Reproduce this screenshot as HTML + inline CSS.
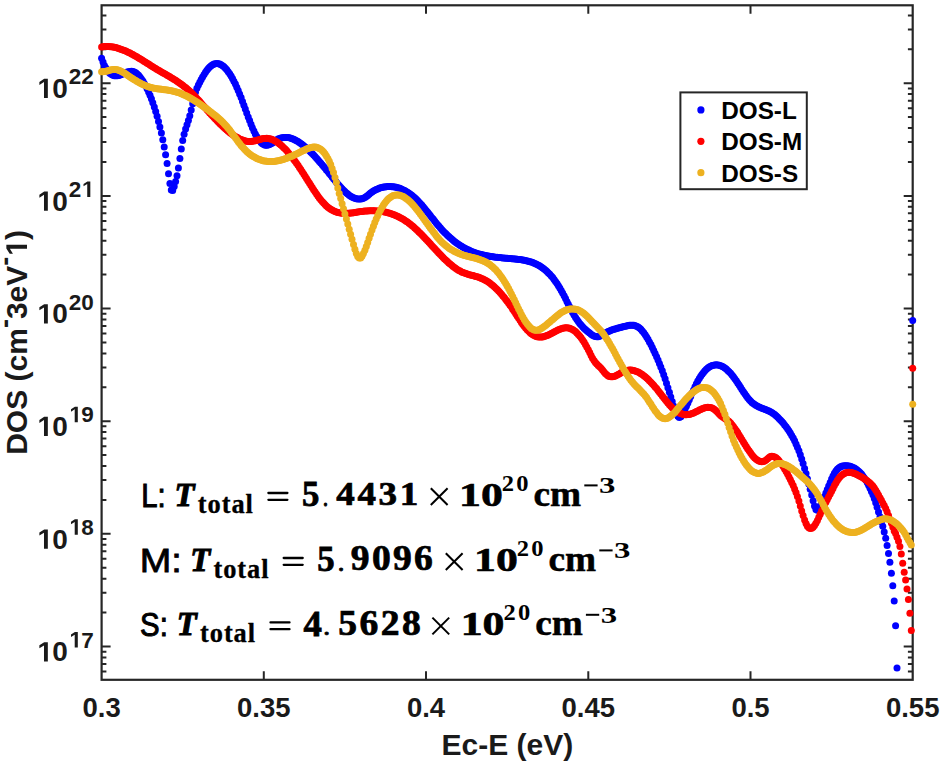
<!DOCTYPE html>
<html><head><meta charset="utf-8"><style>
html,body{margin:0;padding:0;background:#fff;width:944px;height:766px;overflow:hidden}
svg{display:block}

</style></head><body><svg width="944" height="766" viewBox="0 0 944 766"><rect x="101.6" y="5.3" width="811.1" height="674.5" fill="none" stroke="#262626" stroke-width="2.2"/><path d="M263.8 679.8v-8.5M263.8 5.3v8.5M426.0 679.8v-8.5M426.0 5.3v8.5M588.3 679.8v-8.5M588.3 5.3v8.5M750.5 679.8v-8.5M750.5 5.3v8.5M101.6 671.5h4.8M912.7 671.5h-4.8M101.6 664.0h4.8M912.7 664.0h-4.8M101.6 657.4h4.8M912.7 657.4h-4.8M101.6 651.7h4.8M912.7 651.7h-4.8M101.6 646.5h9M912.7 646.5h-9M101.6 612.6h4.8M912.7 612.6h-4.8M101.6 592.7h4.8M912.7 592.7h-4.8M101.6 578.7h4.8M912.7 578.7h-4.8M101.6 567.8h4.8M912.7 567.8h-4.8M101.6 558.8h4.8M912.7 558.8h-4.8M101.6 551.3h4.8M912.7 551.3h-4.8M101.6 544.8h4.8M912.7 544.8h-4.8M101.6 539.0h4.8M912.7 539.0h-4.8M101.6 533.8h9M912.7 533.8h-9M101.6 499.9h4.8M912.7 499.9h-4.8M101.6 480.1h4.8M912.7 480.1h-4.8M101.6 466.0h4.8M912.7 466.0h-4.8M101.6 455.1h4.8M912.7 455.1h-4.8M101.6 446.2h4.8M912.7 446.2h-4.8M101.6 438.6h4.8M912.7 438.6h-4.8M101.6 432.1h4.8M912.7 432.1h-4.8M101.6 426.3h4.8M912.7 426.3h-4.8M101.6 421.2h9M912.7 421.2h-9M101.6 387.3h4.8M912.7 387.3h-4.8M101.6 367.4h4.8M912.7 367.4h-4.8M101.6 353.4h4.8M912.7 353.4h-4.8M101.6 342.4h4.8M912.7 342.4h-4.8M101.6 333.5h4.8M912.7 333.5h-4.8M101.6 326.0h4.8M912.7 326.0h-4.8M101.6 319.4h4.8M912.7 319.4h-4.8M101.6 313.7h4.8M912.7 313.7h-4.8M101.6 308.5h9M912.7 308.5h-9M101.6 274.6h4.8M912.7 274.6h-4.8M101.6 254.8h4.8M912.7 254.8h-4.8M101.6 240.7h4.8M912.7 240.7h-4.8M101.6 229.8h4.8M912.7 229.8h-4.8M101.6 220.9h4.8M912.7 220.9h-4.8M101.6 213.3h4.8M912.7 213.3h-4.8M101.6 206.8h4.8M912.7 206.8h-4.8M101.6 201.0h4.8M912.7 201.0h-4.8M101.6 195.9h9M912.7 195.9h-9M101.6 161.9h4.8M912.7 161.9h-4.8M101.6 142.1h4.8M912.7 142.1h-4.8M101.6 128.0h4.8M912.7 128.0h-4.8M101.6 117.1h4.8M912.7 117.1h-4.8M101.6 108.2h4.8M912.7 108.2h-4.8M101.6 100.7h4.8M912.7 100.7h-4.8M101.6 94.1h4.8M912.7 94.1h-4.8M101.6 88.4h4.8M912.7 88.4h-4.8M101.6 83.2h9M912.7 83.2h-9M101.6 49.3h4.8M912.7 49.3h-4.8M101.6 29.4h4.8M912.7 29.4h-4.8M101.6 15.4h4.8M912.7 15.4h-4.8" stroke="#262626" stroke-width="2" fill="none"/><g fill="#0000ff"><circle cx="101.6" cy="58.2" r="3.5"/><circle cx="103.0" cy="62.1" r="3.5"/><circle cx="104.4" cy="65.4" r="3.5"/><circle cx="105.9" cy="68.1" r="3.5"/><circle cx="107.3" cy="70.4" r="3.5"/><circle cx="108.7" cy="72.2" r="3.5"/><circle cx="110.1" cy="73.6" r="3.5"/><circle cx="111.6" cy="74.6" r="3.5"/><circle cx="113.0" cy="75.3" r="3.5"/><circle cx="114.4" cy="75.7" r="3.5"/><circle cx="115.8" cy="75.8" r="3.5"/><circle cx="117.3" cy="75.7" r="3.5"/><circle cx="118.7" cy="75.4" r="3.5"/><circle cx="120.1" cy="74.9" r="3.5"/><circle cx="121.5" cy="74.4" r="3.5"/><circle cx="122.9" cy="73.8" r="3.5"/><circle cx="124.4" cy="73.2" r="3.5"/><circle cx="125.8" cy="72.6" r="3.5"/><circle cx="127.2" cy="72.1" r="3.5"/><circle cx="128.6" cy="71.7" r="3.5"/><circle cx="130.1" cy="71.4" r="3.5"/><circle cx="131.5" cy="71.3" r="3.5"/><circle cx="132.9" cy="71.5" r="3.5"/><circle cx="134.3" cy="72.0" r="3.5"/><circle cx="135.8" cy="72.8" r="3.5"/><circle cx="137.2" cy="73.9" r="3.5"/><circle cx="138.6" cy="75.3" r="3.5"/><circle cx="140.0" cy="77.0" r="3.5"/><circle cx="141.4" cy="78.9" r="3.5"/><circle cx="142.9" cy="81.0" r="3.5"/><circle cx="144.3" cy="83.4" r="3.5"/><circle cx="145.7" cy="86.0" r="3.5"/><circle cx="147.1" cy="88.8" r="3.5"/><circle cx="148.6" cy="91.9" r="3.5"/><circle cx="150.0" cy="95.2" r="3.5"/><circle cx="151.4" cy="98.8" r="3.5"/><circle cx="152.8" cy="102.7" r="3.5"/><circle cx="154.3" cy="106.9" r="3.5"/><circle cx="155.7" cy="111.5" r="3.5"/><circle cx="157.1" cy="116.3" r="3.5"/><circle cx="158.5" cy="121.5" r="3.5"/><circle cx="159.9" cy="127.1" r="3.5"/><circle cx="161.4" cy="133.1" r="3.5"/><circle cx="162.8" cy="139.7" r="3.5"/><circle cx="164.2" cy="146.9" r="3.5"/><circle cx="165.6" cy="154.8" r="3.5"/><circle cx="167.1" cy="163.6" r="3.5"/><circle cx="168.5" cy="173.7" r="3.5"/><circle cx="169.9" cy="183.6" r="3.5"/><circle cx="171.3" cy="190.0" r="3.5"/><circle cx="172.7" cy="190.6" r="3.5"/><circle cx="174.2" cy="186.4" r="3.5"/><circle cx="175.6" cy="181.6" r="3.5"/><circle cx="177.0" cy="175.8" r="3.5"/><circle cx="178.4" cy="167.9" r="3.5"/><circle cx="179.9" cy="158.5" r="3.5"/><circle cx="181.3" cy="148.9" r="3.5"/><circle cx="182.7" cy="140.6" r="3.5"/><circle cx="184.1" cy="134.2" r="3.5"/><circle cx="185.6" cy="129.1" r="3.5"/><circle cx="187.0" cy="124.8" r="3.5"/><circle cx="188.4" cy="120.6" r="3.5"/><circle cx="189.8" cy="115.8" r="3.5"/><circle cx="191.2" cy="110.1" r="3.5"/><circle cx="192.7" cy="103.8" r="3.5"/><circle cx="194.1" cy="97.6" r="3.5"/><circle cx="195.5" cy="92.3" r="3.5"/><circle cx="196.9" cy="88.3" r="3.5"/><circle cx="198.4" cy="85.1" r="3.5"/><circle cx="199.8" cy="82.2" r="3.5"/><circle cx="201.2" cy="79.5" r="3.5"/><circle cx="202.6" cy="76.9" r="3.5"/><circle cx="204.1" cy="74.5" r="3.5"/><circle cx="205.5" cy="72.2" r="3.5"/><circle cx="206.9" cy="70.2" r="3.5"/><circle cx="208.3" cy="68.4" r="3.5"/><circle cx="209.7" cy="66.9" r="3.5"/><circle cx="211.2" cy="65.7" r="3.5"/><circle cx="212.6" cy="64.8" r="3.5"/><circle cx="214.0" cy="64.1" r="3.5"/><circle cx="215.4" cy="63.7" r="3.5"/><circle cx="216.9" cy="63.6" r="3.5"/><circle cx="218.3" cy="63.7" r="3.5"/><circle cx="219.7" cy="64.1" r="3.5"/><circle cx="221.1" cy="64.8" r="3.5"/><circle cx="222.6" cy="65.7" r="3.5"/><circle cx="224.0" cy="66.8" r="3.5"/><circle cx="225.4" cy="68.2" r="3.5"/><circle cx="226.8" cy="69.8" r="3.5"/><circle cx="228.2" cy="71.7" r="3.5"/><circle cx="229.7" cy="73.7" r="3.5"/><circle cx="231.1" cy="76.0" r="3.5"/><circle cx="232.5" cy="78.5" r="3.5"/><circle cx="233.9" cy="81.2" r="3.5"/><circle cx="235.4" cy="84.1" r="3.5"/><circle cx="236.8" cy="87.2" r="3.5"/><circle cx="238.2" cy="90.5" r="3.5"/><circle cx="239.6" cy="94.0" r="3.5"/><circle cx="241.1" cy="97.6" r="3.5"/><circle cx="242.5" cy="101.4" r="3.5"/><circle cx="243.9" cy="105.2" r="3.5"/><circle cx="245.3" cy="109.1" r="3.5"/><circle cx="246.7" cy="113.0" r="3.5"/><circle cx="248.2" cy="116.9" r="3.5"/><circle cx="249.6" cy="120.6" r="3.5"/><circle cx="251.0" cy="124.2" r="3.5"/><circle cx="252.4" cy="127.7" r="3.5"/><circle cx="253.9" cy="130.9" r="3.5"/><circle cx="255.3" cy="133.9" r="3.5"/><circle cx="256.7" cy="136.5" r="3.5"/><circle cx="258.1" cy="138.8" r="3.5"/><circle cx="259.6" cy="140.8" r="3.5"/><circle cx="261.0" cy="142.5" r="3.5"/><circle cx="262.4" cy="143.7" r="3.5"/><circle cx="263.8" cy="144.6" r="3.5"/><circle cx="265.2" cy="145.2" r="3.5"/><circle cx="266.7" cy="145.3" r="3.5"/><circle cx="268.1" cy="145.1" r="3.5"/><circle cx="269.5" cy="144.5" r="3.5"/><circle cx="270.9" cy="143.8" r="3.5"/><circle cx="272.4" cy="142.9" r="3.5"/><circle cx="273.8" cy="141.9" r="3.5"/><circle cx="275.2" cy="140.9" r="3.5"/><circle cx="276.6" cy="139.9" r="3.5"/><circle cx="278.0" cy="139.1" r="3.5"/><circle cx="279.5" cy="138.5" r="3.5"/><circle cx="280.9" cy="138.0" r="3.5"/><circle cx="282.3" cy="137.7" r="3.5"/><circle cx="283.7" cy="137.4" r="3.5"/><circle cx="285.2" cy="137.4" r="3.5"/><circle cx="286.6" cy="137.4" r="3.5"/><circle cx="288.0" cy="137.6" r="3.5"/><circle cx="289.4" cy="137.8" r="3.5"/><circle cx="290.9" cy="138.2" r="3.5"/><circle cx="292.3" cy="138.7" r="3.5"/><circle cx="293.7" cy="139.3" r="3.5"/><circle cx="295.1" cy="140.0" r="3.5"/><circle cx="296.5" cy="140.7" r="3.5"/><circle cx="298.0" cy="141.6" r="3.5"/><circle cx="299.4" cy="142.5" r="3.5"/><circle cx="300.8" cy="143.5" r="3.5"/><circle cx="302.2" cy="144.6" r="3.5"/><circle cx="303.7" cy="145.7" r="3.5"/><circle cx="305.1" cy="146.9" r="3.5"/><circle cx="306.5" cy="148.1" r="3.5"/><circle cx="307.9" cy="149.4" r="3.5"/><circle cx="309.4" cy="150.8" r="3.5"/><circle cx="310.8" cy="152.2" r="3.5"/><circle cx="312.2" cy="153.6" r="3.5"/><circle cx="313.6" cy="155.1" r="3.5"/><circle cx="315.0" cy="156.6" r="3.5"/><circle cx="316.5" cy="158.2" r="3.5"/><circle cx="317.9" cy="159.8" r="3.5"/><circle cx="319.3" cy="161.4" r="3.5"/><circle cx="320.7" cy="163.0" r="3.5"/><circle cx="322.2" cy="164.7" r="3.5"/><circle cx="323.6" cy="166.4" r="3.5"/><circle cx="325.0" cy="168.1" r="3.5"/><circle cx="326.4" cy="169.9" r="3.5"/><circle cx="327.9" cy="171.6" r="3.5"/><circle cx="329.3" cy="173.4" r="3.5"/><circle cx="330.7" cy="175.1" r="3.5"/><circle cx="332.1" cy="176.9" r="3.5"/><circle cx="333.5" cy="178.7" r="3.5"/><circle cx="335.0" cy="180.4" r="3.5"/><circle cx="336.4" cy="182.2" r="3.5"/><circle cx="337.8" cy="183.9" r="3.5"/><circle cx="339.2" cy="185.5" r="3.5"/><circle cx="340.7" cy="187.2" r="3.5"/><circle cx="342.1" cy="188.7" r="3.5"/><circle cx="343.5" cy="190.2" r="3.5"/><circle cx="344.9" cy="191.6" r="3.5"/><circle cx="346.4" cy="192.9" r="3.5"/><circle cx="347.8" cy="194.1" r="3.5"/><circle cx="349.2" cy="195.2" r="3.5"/><circle cx="350.6" cy="196.2" r="3.5"/><circle cx="352.0" cy="197.1" r="3.5"/><circle cx="353.5" cy="197.8" r="3.5"/><circle cx="354.9" cy="198.3" r="3.5"/><circle cx="356.3" cy="198.8" r="3.5"/><circle cx="357.7" cy="199.0" r="3.5"/><circle cx="359.2" cy="199.1" r="3.5"/><circle cx="360.6" cy="199.0" r="3.5"/><circle cx="362.0" cy="198.7" r="3.5"/><circle cx="363.4" cy="198.2" r="3.5"/><circle cx="364.9" cy="197.4" r="3.5"/><circle cx="366.3" cy="196.5" r="3.5"/><circle cx="367.7" cy="195.4" r="3.5"/><circle cx="369.1" cy="194.3" r="3.5"/><circle cx="370.5" cy="193.1" r="3.5"/><circle cx="372.0" cy="192.1" r="3.5"/><circle cx="373.4" cy="191.1" r="3.5"/><circle cx="374.8" cy="190.3" r="3.5"/><circle cx="376.2" cy="189.5" r="3.5"/><circle cx="377.7" cy="188.9" r="3.5"/><circle cx="379.1" cy="188.3" r="3.5"/><circle cx="380.5" cy="187.8" r="3.5"/><circle cx="381.9" cy="187.4" r="3.5"/><circle cx="383.4" cy="187.1" r="3.5"/><circle cx="384.8" cy="186.9" r="3.5"/><circle cx="386.2" cy="186.7" r="3.5"/><circle cx="387.6" cy="186.6" r="3.5"/><circle cx="389.0" cy="186.6" r="3.5"/><circle cx="390.5" cy="186.6" r="3.5"/><circle cx="391.9" cy="186.7" r="3.5"/><circle cx="393.3" cy="186.8" r="3.5"/><circle cx="394.7" cy="187.1" r="3.5"/><circle cx="396.2" cy="187.3" r="3.5"/><circle cx="397.6" cy="187.7" r="3.5"/><circle cx="399.0" cy="188.1" r="3.5"/><circle cx="400.4" cy="188.6" r="3.5"/><circle cx="401.8" cy="189.2" r="3.5"/><circle cx="403.3" cy="189.9" r="3.5"/><circle cx="404.7" cy="190.6" r="3.5"/><circle cx="406.1" cy="191.4" r="3.5"/><circle cx="407.5" cy="192.2" r="3.5"/><circle cx="409.0" cy="193.2" r="3.5"/><circle cx="410.4" cy="194.2" r="3.5"/><circle cx="411.8" cy="195.3" r="3.5"/><circle cx="413.2" cy="196.5" r="3.5"/><circle cx="414.7" cy="197.7" r="3.5"/><circle cx="416.1" cy="199.1" r="3.5"/><circle cx="417.5" cy="200.5" r="3.5"/><circle cx="418.9" cy="202.0" r="3.5"/><circle cx="420.3" cy="203.5" r="3.5"/><circle cx="421.8" cy="205.1" r="3.5"/><circle cx="423.2" cy="206.8" r="3.5"/><circle cx="424.6" cy="208.5" r="3.5"/><circle cx="426.0" cy="210.2" r="3.5"/><circle cx="427.5" cy="212.0" r="3.5"/><circle cx="428.9" cy="213.8" r="3.5"/><circle cx="430.3" cy="215.6" r="3.5"/><circle cx="431.7" cy="217.4" r="3.5"/><circle cx="433.2" cy="219.1" r="3.5"/><circle cx="434.6" cy="220.9" r="3.5"/><circle cx="436.0" cy="222.7" r="3.5"/><circle cx="437.4" cy="224.4" r="3.5"/><circle cx="438.8" cy="226.1" r="3.5"/><circle cx="440.3" cy="227.8" r="3.5"/><circle cx="441.7" cy="229.4" r="3.5"/><circle cx="443.1" cy="230.9" r="3.5"/><circle cx="444.5" cy="232.4" r="3.5"/><circle cx="446.0" cy="233.8" r="3.5"/><circle cx="447.4" cy="235.2" r="3.5"/><circle cx="448.8" cy="236.6" r="3.5"/><circle cx="450.2" cy="237.8" r="3.5"/><circle cx="451.7" cy="239.1" r="3.5"/><circle cx="453.1" cy="240.2" r="3.5"/><circle cx="454.5" cy="241.4" r="3.5"/><circle cx="455.9" cy="242.5" r="3.5"/><circle cx="457.3" cy="243.5" r="3.5"/><circle cx="458.8" cy="244.5" r="3.5"/><circle cx="460.2" cy="245.4" r="3.5"/><circle cx="461.6" cy="246.3" r="3.5"/><circle cx="463.0" cy="247.2" r="3.5"/><circle cx="464.5" cy="248.0" r="3.5"/><circle cx="465.9" cy="248.7" r="3.5"/><circle cx="467.3" cy="249.5" r="3.5"/><circle cx="468.7" cy="250.1" r="3.5"/><circle cx="470.2" cy="250.8" r="3.5"/><circle cx="471.6" cy="251.4" r="3.5"/><circle cx="473.0" cy="252.0" r="3.5"/><circle cx="474.4" cy="252.5" r="3.5"/><circle cx="475.8" cy="253.0" r="3.5"/><circle cx="477.3" cy="253.4" r="3.5"/><circle cx="478.7" cy="253.9" r="3.5"/><circle cx="480.1" cy="254.3" r="3.5"/><circle cx="481.5" cy="254.6" r="3.5"/><circle cx="483.0" cy="255.0" r="3.5"/><circle cx="484.4" cy="255.3" r="3.5"/><circle cx="485.8" cy="255.6" r="3.5"/><circle cx="487.2" cy="255.9" r="3.5"/><circle cx="488.7" cy="256.1" r="3.5"/><circle cx="490.1" cy="256.4" r="3.5"/><circle cx="491.5" cy="256.6" r="3.5"/><circle cx="492.9" cy="256.8" r="3.5"/><circle cx="494.3" cy="257.0" r="3.5"/><circle cx="495.8" cy="257.2" r="3.5"/><circle cx="497.2" cy="257.3" r="3.5"/><circle cx="498.6" cy="257.5" r="3.5"/><circle cx="500.0" cy="257.6" r="3.5"/><circle cx="501.5" cy="257.8" r="3.5"/><circle cx="502.9" cy="257.9" r="3.5"/><circle cx="504.3" cy="258.0" r="3.5"/><circle cx="505.7" cy="258.2" r="3.5"/><circle cx="507.1" cy="258.3" r="3.5"/><circle cx="508.6" cy="258.4" r="3.5"/><circle cx="510.0" cy="258.6" r="3.5"/><circle cx="511.4" cy="258.7" r="3.5"/><circle cx="512.8" cy="258.8" r="3.5"/><circle cx="514.3" cy="259.0" r="3.5"/><circle cx="515.7" cy="259.1" r="3.5"/><circle cx="517.1" cy="259.3" r="3.5"/><circle cx="518.5" cy="259.5" r="3.5"/><circle cx="520.0" cy="259.6" r="3.5"/><circle cx="521.4" cy="259.8" r="3.5"/><circle cx="522.8" cy="260.1" r="3.5"/><circle cx="524.2" cy="260.3" r="3.5"/><circle cx="525.6" cy="260.6" r="3.5"/><circle cx="527.1" cy="260.9" r="3.5"/><circle cx="528.5" cy="261.3" r="3.5"/><circle cx="529.9" cy="261.7" r="3.5"/><circle cx="531.3" cy="262.1" r="3.5"/><circle cx="532.8" cy="262.6" r="3.5"/><circle cx="534.2" cy="263.2" r="3.5"/><circle cx="535.6" cy="263.8" r="3.5"/><circle cx="537.0" cy="264.5" r="3.5"/><circle cx="538.5" cy="265.2" r="3.5"/><circle cx="539.9" cy="266.1" r="3.5"/><circle cx="541.3" cy="267.0" r="3.5"/><circle cx="542.7" cy="268.0" r="3.5"/><circle cx="544.1" cy="269.1" r="3.5"/><circle cx="545.6" cy="270.2" r="3.5"/><circle cx="547.0" cy="271.5" r="3.5"/><circle cx="548.4" cy="272.9" r="3.5"/><circle cx="549.8" cy="274.3" r="3.5"/><circle cx="551.3" cy="275.9" r="3.5"/><circle cx="552.7" cy="277.6" r="3.5"/><circle cx="554.1" cy="279.4" r="3.5"/><circle cx="555.5" cy="281.4" r="3.5"/><circle cx="557.0" cy="283.5" r="3.5"/><circle cx="558.4" cy="285.7" r="3.5"/><circle cx="559.8" cy="288.0" r="3.5"/><circle cx="561.2" cy="290.5" r="3.5"/><circle cx="562.6" cy="293.1" r="3.5"/><circle cx="564.1" cy="295.8" r="3.5"/><circle cx="565.5" cy="298.6" r="3.5"/><circle cx="566.9" cy="301.5" r="3.5"/><circle cx="568.3" cy="304.3" r="3.5"/><circle cx="569.8" cy="307.1" r="3.5"/><circle cx="571.2" cy="309.9" r="3.5"/><circle cx="572.6" cy="312.5" r="3.5"/><circle cx="574.0" cy="315.1" r="3.5"/><circle cx="575.5" cy="317.4" r="3.5"/><circle cx="576.9" cy="319.6" r="3.5"/><circle cx="578.3" cy="321.6" r="3.5"/><circle cx="579.7" cy="323.4" r="3.5"/><circle cx="581.1" cy="325.1" r="3.5"/><circle cx="582.6" cy="326.7" r="3.5"/><circle cx="584.0" cy="328.2" r="3.5"/><circle cx="585.4" cy="329.5" r="3.5"/><circle cx="586.8" cy="330.8" r="3.5"/><circle cx="588.3" cy="332.0" r="3.5"/><circle cx="589.7" cy="333.1" r="3.5"/><circle cx="591.1" cy="334.2" r="3.5"/><circle cx="592.5" cy="335.2" r="3.5"/><circle cx="594.0" cy="336.0" r="3.5"/><circle cx="595.4" cy="336.5" r="3.5"/><circle cx="596.8" cy="336.8" r="3.5"/><circle cx="598.2" cy="336.7" r="3.5"/><circle cx="599.6" cy="336.3" r="3.5"/><circle cx="601.1" cy="335.5" r="3.5"/><circle cx="602.5" cy="334.7" r="3.5"/><circle cx="603.9" cy="333.8" r="3.5"/><circle cx="605.3" cy="332.9" r="3.5"/><circle cx="606.8" cy="332.2" r="3.5"/><circle cx="608.2" cy="331.5" r="3.5"/><circle cx="609.6" cy="330.9" r="3.5"/><circle cx="611.0" cy="330.3" r="3.5"/><circle cx="612.5" cy="329.8" r="3.5"/><circle cx="613.9" cy="329.3" r="3.5"/><circle cx="615.3" cy="328.9" r="3.5"/><circle cx="616.7" cy="328.5" r="3.5"/><circle cx="618.1" cy="328.1" r="3.5"/><circle cx="619.6" cy="327.7" r="3.5"/><circle cx="621.0" cy="327.3" r="3.5"/><circle cx="622.4" cy="327.0" r="3.5"/><circle cx="623.8" cy="326.6" r="3.5"/><circle cx="625.3" cy="326.2" r="3.5"/><circle cx="626.7" cy="325.9" r="3.5"/><circle cx="628.1" cy="325.6" r="3.5"/><circle cx="629.5" cy="325.3" r="3.5"/><circle cx="630.9" cy="325.2" r="3.5"/><circle cx="632.4" cy="325.2" r="3.5"/><circle cx="633.8" cy="325.3" r="3.5"/><circle cx="635.2" cy="325.7" r="3.5"/><circle cx="636.6" cy="326.2" r="3.5"/><circle cx="638.1" cy="327.0" r="3.5"/><circle cx="639.5" cy="328.0" r="3.5"/><circle cx="640.9" cy="329.3" r="3.5"/><circle cx="642.3" cy="330.9" r="3.5"/><circle cx="643.8" cy="332.7" r="3.5"/><circle cx="645.2" cy="334.7" r="3.5"/><circle cx="646.6" cy="336.9" r="3.5"/><circle cx="648.0" cy="339.3" r="3.5"/><circle cx="649.4" cy="341.9" r="3.5"/><circle cx="650.9" cy="344.6" r="3.5"/><circle cx="652.3" cy="347.5" r="3.5"/><circle cx="653.7" cy="350.5" r="3.5"/><circle cx="655.1" cy="353.5" r="3.5"/><circle cx="656.6" cy="356.7" r="3.5"/><circle cx="658.0" cy="360.0" r="3.5"/><circle cx="659.4" cy="363.5" r="3.5"/><circle cx="660.8" cy="367.0" r="3.5"/><circle cx="662.3" cy="370.8" r="3.5"/><circle cx="663.7" cy="374.7" r="3.5"/><circle cx="665.1" cy="378.8" r="3.5"/><circle cx="666.5" cy="383.2" r="3.5"/><circle cx="667.9" cy="387.7" r="3.5"/><circle cx="669.4" cy="392.3" r="3.5"/><circle cx="670.8" cy="397.0" r="3.5"/><circle cx="672.2" cy="401.6" r="3.5"/><circle cx="673.6" cy="406.0" r="3.5"/><circle cx="675.1" cy="410.1" r="3.5"/><circle cx="676.5" cy="413.7" r="3.5"/><circle cx="677.9" cy="416.3" r="3.5"/><circle cx="679.3" cy="417.4" r="3.5"/><circle cx="680.8" cy="416.8" r="3.5"/><circle cx="682.2" cy="415.0" r="3.5"/><circle cx="683.6" cy="412.3" r="3.5"/><circle cx="685.0" cy="409.4" r="3.5"/><circle cx="686.4" cy="406.3" r="3.5"/><circle cx="687.9" cy="403.0" r="3.5"/><circle cx="689.3" cy="399.7" r="3.5"/><circle cx="690.7" cy="396.4" r="3.5"/><circle cx="692.1" cy="393.1" r="3.5"/><circle cx="693.6" cy="389.9" r="3.5"/><circle cx="695.0" cy="386.8" r="3.5"/><circle cx="696.4" cy="383.8" r="3.5"/><circle cx="697.8" cy="381.1" r="3.5"/><circle cx="699.3" cy="378.6" r="3.5"/><circle cx="700.7" cy="376.3" r="3.5"/><circle cx="702.1" cy="374.2" r="3.5"/><circle cx="703.5" cy="372.4" r="3.5"/><circle cx="704.9" cy="370.7" r="3.5"/><circle cx="706.4" cy="369.3" r="3.5"/><circle cx="707.8" cy="368.1" r="3.5"/><circle cx="709.2" cy="367.1" r="3.5"/><circle cx="710.6" cy="366.2" r="3.5"/><circle cx="712.1" cy="365.6" r="3.5"/><circle cx="713.5" cy="365.2" r="3.5"/><circle cx="714.9" cy="364.9" r="3.5"/><circle cx="716.3" cy="364.8" r="3.5"/><circle cx="717.8" cy="364.9" r="3.5"/><circle cx="719.2" cy="365.2" r="3.5"/><circle cx="720.6" cy="365.7" r="3.5"/><circle cx="722.0" cy="366.3" r="3.5"/><circle cx="723.4" cy="367.1" r="3.5"/><circle cx="724.9" cy="368.0" r="3.5"/><circle cx="726.3" cy="369.1" r="3.5"/><circle cx="727.7" cy="370.4" r="3.5"/><circle cx="729.1" cy="371.7" r="3.5"/><circle cx="730.6" cy="373.3" r="3.5"/><circle cx="732.0" cy="375.0" r="3.5"/><circle cx="733.4" cy="376.8" r="3.5"/><circle cx="734.8" cy="378.7" r="3.5"/><circle cx="736.3" cy="380.8" r="3.5"/><circle cx="737.7" cy="382.9" r="3.5"/><circle cx="739.1" cy="385.1" r="3.5"/><circle cx="740.5" cy="387.3" r="3.5"/><circle cx="741.9" cy="389.5" r="3.5"/><circle cx="743.4" cy="391.7" r="3.5"/><circle cx="744.8" cy="393.8" r="3.5"/><circle cx="746.2" cy="395.8" r="3.5"/><circle cx="747.6" cy="397.7" r="3.5"/><circle cx="749.1" cy="399.4" r="3.5"/><circle cx="750.5" cy="401.0" r="3.5"/><circle cx="751.9" cy="402.4" r="3.5"/><circle cx="753.3" cy="403.6" r="3.5"/><circle cx="754.7" cy="404.6" r="3.5"/><circle cx="756.2" cy="405.5" r="3.5"/><circle cx="757.6" cy="406.3" r="3.5"/><circle cx="759.0" cy="407.0" r="3.5"/><circle cx="760.4" cy="407.6" r="3.5"/><circle cx="761.9" cy="408.2" r="3.5"/><circle cx="763.3" cy="408.7" r="3.5"/><circle cx="764.7" cy="409.2" r="3.5"/><circle cx="766.1" cy="409.8" r="3.5"/><circle cx="767.6" cy="410.4" r="3.5"/><circle cx="769.0" cy="411.0" r="3.5"/><circle cx="770.4" cy="411.8" r="3.5"/><circle cx="771.8" cy="412.6" r="3.5"/><circle cx="773.2" cy="413.5" r="3.5"/><circle cx="774.7" cy="414.6" r="3.5"/><circle cx="776.1" cy="415.7" r="3.5"/><circle cx="777.5" cy="417.0" r="3.5"/><circle cx="778.9" cy="418.4" r="3.5"/><circle cx="780.4" cy="419.9" r="3.5"/><circle cx="781.8" cy="421.5" r="3.5"/><circle cx="783.2" cy="423.1" r="3.5"/><circle cx="784.6" cy="424.9" r="3.5"/><circle cx="786.1" cy="426.8" r="3.5"/><circle cx="787.5" cy="428.7" r="3.5"/><circle cx="788.9" cy="430.8" r="3.5"/><circle cx="790.3" cy="433.0" r="3.5"/><circle cx="791.7" cy="435.4" r="3.5"/><circle cx="793.2" cy="438.0" r="3.5"/><circle cx="794.6" cy="440.8" r="3.5"/><circle cx="796.0" cy="443.9" r="3.5"/><circle cx="797.4" cy="447.2" r="3.5"/><circle cx="798.9" cy="450.8" r="3.5"/><circle cx="800.3" cy="454.7" r="3.5"/><circle cx="801.7" cy="458.9" r="3.5"/><circle cx="803.1" cy="463.5" r="3.5"/><circle cx="804.6" cy="468.4" r="3.5"/><circle cx="806.0" cy="473.6" r="3.5"/><circle cx="807.4" cy="478.8" r="3.5"/><circle cx="808.8" cy="484.0" r="3.5"/><circle cx="810.2" cy="489.3" r="3.5"/><circle cx="811.7" cy="494.9" r="3.5"/><circle cx="813.1" cy="500.7" r="3.5"/><circle cx="814.5" cy="505.9" r="3.5"/><circle cx="815.9" cy="509.4" r="3.5"/><circle cx="817.4" cy="510.3" r="3.5"/><circle cx="818.8" cy="508.7" r="3.5"/><circle cx="820.2" cy="505.8" r="3.5"/><circle cx="821.6" cy="502.9" r="3.5"/><circle cx="823.1" cy="499.8" r="3.5"/><circle cx="824.5" cy="496.5" r="3.5"/><circle cx="825.9" cy="493.1" r="3.5"/><circle cx="827.3" cy="489.5" r="3.5"/><circle cx="828.7" cy="485.9" r="3.5"/><circle cx="830.2" cy="482.4" r="3.5"/><circle cx="831.6" cy="479.0" r="3.5"/><circle cx="833.0" cy="475.9" r="3.5"/><circle cx="834.4" cy="473.3" r="3.5"/><circle cx="835.9" cy="471.1" r="3.5"/><circle cx="837.3" cy="469.3" r="3.5"/><circle cx="838.7" cy="468.0" r="3.5"/><circle cx="840.1" cy="467.0" r="3.5"/><circle cx="841.6" cy="466.3" r="3.5"/><circle cx="843.0" cy="465.9" r="3.5"/><circle cx="844.4" cy="465.7" r="3.5"/><circle cx="845.8" cy="465.7" r="3.5"/><circle cx="847.2" cy="465.8" r="3.5"/><circle cx="848.7" cy="466.0" r="3.5"/><circle cx="850.1" cy="466.3" r="3.5"/><circle cx="851.5" cy="466.8" r="3.5"/><circle cx="852.9" cy="467.4" r="3.5"/><circle cx="854.4" cy="468.1" r="3.5"/><circle cx="855.8" cy="469.0" r="3.5"/><circle cx="857.2" cy="470.0" r="3.5"/><circle cx="858.6" cy="471.2" r="3.5"/><circle cx="860.0" cy="472.6" r="3.5"/><circle cx="861.5" cy="474.1" r="3.5"/><circle cx="862.9" cy="475.9" r="3.5"/><circle cx="864.3" cy="477.9" r="3.5"/><circle cx="865.7" cy="480.1" r="3.5"/><circle cx="867.2" cy="482.5" r="3.5"/><circle cx="868.6" cy="485.2" r="3.5"/><circle cx="870.0" cy="488.2" r="3.5"/><circle cx="871.4" cy="491.4" r="3.5"/><circle cx="872.9" cy="494.8" r="3.5"/><circle cx="874.3" cy="498.5" r="3.5"/><circle cx="875.7" cy="502.7" r="3.5"/><circle cx="877.1" cy="507.3" r="3.5"/><circle cx="878.5" cy="512.0" r="3.5"/><circle cx="880.0" cy="516.8" r="3.5"/><circle cx="881.4" cy="521.7" r="3.5"/><circle cx="882.8" cy="526.3" r="3.5"/><circle cx="884.2" cy="532.0" r="3.5"/><circle cx="885.7" cy="538.3" r="3.5"/><circle cx="887.1" cy="545.6" r="3.5"/><circle cx="888.5" cy="553.4" r="3.5"/><circle cx="889.9" cy="562.3" r="3.5"/><circle cx="891.4" cy="573.3" r="3.5"/><circle cx="892.8" cy="585.8" r="3.5"/><circle cx="894.2" cy="601.0" r="3.5"/><circle cx="895.6" cy="625.7" r="3.5"/><circle cx="897.0" cy="667.9" r="3.5"/><circle cx="912.7" cy="320.4" r="3.5"/></g><g fill="#ff0000"><circle cx="101.6" cy="47.0" r="3.5"/><circle cx="103.0" cy="46.8" r="3.5"/><circle cx="104.4" cy="46.6" r="3.5"/><circle cx="105.9" cy="46.5" r="3.5"/><circle cx="107.3" cy="46.5" r="3.5"/><circle cx="108.7" cy="46.6" r="3.5"/><circle cx="110.1" cy="46.7" r="3.5"/><circle cx="111.6" cy="46.8" r="3.5"/><circle cx="113.0" cy="47.0" r="3.5"/><circle cx="114.4" cy="47.3" r="3.5"/><circle cx="115.8" cy="47.6" r="3.5"/><circle cx="117.3" cy="48.0" r="3.5"/><circle cx="118.7" cy="48.4" r="3.5"/><circle cx="120.1" cy="48.9" r="3.5"/><circle cx="121.5" cy="49.4" r="3.5"/><circle cx="122.9" cy="49.9" r="3.5"/><circle cx="124.4" cy="50.5" r="3.5"/><circle cx="125.8" cy="51.1" r="3.5"/><circle cx="127.2" cy="51.7" r="3.5"/><circle cx="128.6" cy="52.4" r="3.5"/><circle cx="130.1" cy="53.1" r="3.5"/><circle cx="131.5" cy="53.9" r="3.5"/><circle cx="132.9" cy="54.6" r="3.5"/><circle cx="134.3" cy="55.4" r="3.5"/><circle cx="135.8" cy="56.2" r="3.5"/><circle cx="137.2" cy="57.1" r="3.5"/><circle cx="138.6" cy="57.9" r="3.5"/><circle cx="140.0" cy="58.8" r="3.5"/><circle cx="141.4" cy="59.6" r="3.5"/><circle cx="142.9" cy="60.5" r="3.5"/><circle cx="144.3" cy="61.4" r="3.5"/><circle cx="145.7" cy="62.3" r="3.5"/><circle cx="147.1" cy="63.2" r="3.5"/><circle cx="148.6" cy="64.1" r="3.5"/><circle cx="150.0" cy="65.0" r="3.5"/><circle cx="151.4" cy="65.9" r="3.5"/><circle cx="152.8" cy="66.8" r="3.5"/><circle cx="154.3" cy="67.7" r="3.5"/><circle cx="155.7" cy="68.5" r="3.5"/><circle cx="157.1" cy="69.4" r="3.5"/><circle cx="158.5" cy="70.2" r="3.5"/><circle cx="159.9" cy="71.1" r="3.5"/><circle cx="161.4" cy="71.9" r="3.5"/><circle cx="162.8" cy="72.7" r="3.5"/><circle cx="164.2" cy="73.5" r="3.5"/><circle cx="165.6" cy="74.3" r="3.5"/><circle cx="167.1" cy="75.2" r="3.5"/><circle cx="168.5" cy="76.0" r="3.5"/><circle cx="169.9" cy="76.8" r="3.5"/><circle cx="171.3" cy="77.7" r="3.5"/><circle cx="172.7" cy="78.5" r="3.5"/><circle cx="174.2" cy="79.4" r="3.5"/><circle cx="175.6" cy="80.3" r="3.5"/><circle cx="177.0" cy="81.2" r="3.5"/><circle cx="178.4" cy="82.2" r="3.5"/><circle cx="179.9" cy="83.2" r="3.5"/><circle cx="181.3" cy="84.2" r="3.5"/><circle cx="182.7" cy="85.3" r="3.5"/><circle cx="184.1" cy="86.4" r="3.5"/><circle cx="185.6" cy="87.5" r="3.5"/><circle cx="187.0" cy="88.7" r="3.5"/><circle cx="188.4" cy="90.0" r="3.5"/><circle cx="189.8" cy="91.3" r="3.5"/><circle cx="191.2" cy="92.6" r="3.5"/><circle cx="192.7" cy="94.0" r="3.5"/><circle cx="194.1" cy="95.5" r="3.5"/><circle cx="195.5" cy="97.0" r="3.5"/><circle cx="196.9" cy="98.5" r="3.5"/><circle cx="198.4" cy="100.1" r="3.5"/><circle cx="199.8" cy="101.6" r="3.5"/><circle cx="201.2" cy="103.2" r="3.5"/><circle cx="202.6" cy="104.9" r="3.5"/><circle cx="204.1" cy="106.5" r="3.5"/><circle cx="205.5" cy="108.1" r="3.5"/><circle cx="206.9" cy="109.7" r="3.5"/><circle cx="208.3" cy="111.3" r="3.5"/><circle cx="209.7" cy="112.9" r="3.5"/><circle cx="211.2" cy="114.4" r="3.5"/><circle cx="212.6" cy="116.0" r="3.5"/><circle cx="214.0" cy="117.5" r="3.5"/><circle cx="215.4" cy="119.0" r="3.5"/><circle cx="216.9" cy="120.5" r="3.5"/><circle cx="218.3" cy="122.0" r="3.5"/><circle cx="219.7" cy="123.4" r="3.5"/><circle cx="221.1" cy="124.8" r="3.5"/><circle cx="222.6" cy="126.2" r="3.5"/><circle cx="224.0" cy="127.5" r="3.5"/><circle cx="225.4" cy="128.8" r="3.5"/><circle cx="226.8" cy="130.0" r="3.5"/><circle cx="228.2" cy="131.2" r="3.5"/><circle cx="229.7" cy="132.4" r="3.5"/><circle cx="231.1" cy="133.5" r="3.5"/><circle cx="232.5" cy="134.5" r="3.5"/><circle cx="233.9" cy="135.5" r="3.5"/><circle cx="235.4" cy="136.4" r="3.5"/><circle cx="236.8" cy="137.3" r="3.5"/><circle cx="238.2" cy="138.1" r="3.5"/><circle cx="239.6" cy="138.9" r="3.5"/><circle cx="241.1" cy="139.5" r="3.5"/><circle cx="242.5" cy="140.1" r="3.5"/><circle cx="243.9" cy="140.6" r="3.5"/><circle cx="245.3" cy="141.0" r="3.5"/><circle cx="246.7" cy="141.3" r="3.5"/><circle cx="248.2" cy="141.5" r="3.5"/><circle cx="249.6" cy="141.6" r="3.5"/><circle cx="251.0" cy="141.5" r="3.5"/><circle cx="252.4" cy="141.3" r="3.5"/><circle cx="253.9" cy="141.0" r="3.5"/><circle cx="255.3" cy="140.7" r="3.5"/><circle cx="256.7" cy="140.3" r="3.5"/><circle cx="258.1" cy="139.9" r="3.5"/><circle cx="259.6" cy="139.5" r="3.5"/><circle cx="261.0" cy="139.1" r="3.5"/><circle cx="262.4" cy="138.8" r="3.5"/><circle cx="263.8" cy="138.5" r="3.5"/><circle cx="265.2" cy="138.4" r="3.5"/><circle cx="266.7" cy="138.3" r="3.5"/><circle cx="268.1" cy="138.5" r="3.5"/><circle cx="269.5" cy="138.7" r="3.5"/><circle cx="270.9" cy="139.1" r="3.5"/><circle cx="272.4" cy="139.6" r="3.5"/><circle cx="273.8" cy="140.2" r="3.5"/><circle cx="275.2" cy="141.0" r="3.5"/><circle cx="276.6" cy="141.8" r="3.5"/><circle cx="278.0" cy="142.8" r="3.5"/><circle cx="279.5" cy="143.9" r="3.5"/><circle cx="280.9" cy="145.0" r="3.5"/><circle cx="282.3" cy="146.3" r="3.5"/><circle cx="283.7" cy="147.7" r="3.5"/><circle cx="285.2" cy="149.1" r="3.5"/><circle cx="286.6" cy="150.6" r="3.5"/><circle cx="288.0" cy="152.2" r="3.5"/><circle cx="289.4" cy="153.9" r="3.5"/><circle cx="290.9" cy="155.6" r="3.5"/><circle cx="292.3" cy="157.5" r="3.5"/><circle cx="293.7" cy="159.4" r="3.5"/><circle cx="295.1" cy="161.3" r="3.5"/><circle cx="296.5" cy="163.3" r="3.5"/><circle cx="298.0" cy="165.3" r="3.5"/><circle cx="299.4" cy="167.4" r="3.5"/><circle cx="300.8" cy="169.6" r="3.5"/><circle cx="302.2" cy="171.8" r="3.5"/><circle cx="303.7" cy="174.0" r="3.5"/><circle cx="305.1" cy="176.2" r="3.5"/><circle cx="306.5" cy="178.5" r="3.5"/><circle cx="307.9" cy="180.8" r="3.5"/><circle cx="309.4" cy="183.0" r="3.5"/><circle cx="310.8" cy="185.3" r="3.5"/><circle cx="312.2" cy="187.5" r="3.5"/><circle cx="313.6" cy="189.7" r="3.5"/><circle cx="315.0" cy="191.8" r="3.5"/><circle cx="316.5" cy="193.9" r="3.5"/><circle cx="317.9" cy="195.9" r="3.5"/><circle cx="319.3" cy="197.9" r="3.5"/><circle cx="320.7" cy="199.7" r="3.5"/><circle cx="322.2" cy="201.5" r="3.5"/><circle cx="323.6" cy="203.1" r="3.5"/><circle cx="325.0" cy="204.6" r="3.5"/><circle cx="326.4" cy="206.0" r="3.5"/><circle cx="327.9" cy="207.2" r="3.5"/><circle cx="329.3" cy="208.3" r="3.5"/><circle cx="330.7" cy="209.3" r="3.5"/><circle cx="332.1" cy="210.1" r="3.5"/><circle cx="333.5" cy="210.8" r="3.5"/><circle cx="335.0" cy="211.5" r="3.5"/><circle cx="336.4" cy="212.0" r="3.5"/><circle cx="337.8" cy="212.4" r="3.5"/><circle cx="339.2" cy="212.7" r="3.5"/><circle cx="340.7" cy="213.0" r="3.5"/><circle cx="342.1" cy="213.2" r="3.5"/><circle cx="343.5" cy="213.3" r="3.5"/><circle cx="344.9" cy="213.3" r="3.5"/><circle cx="346.4" cy="213.3" r="3.5"/><circle cx="347.8" cy="213.3" r="3.5"/><circle cx="349.2" cy="213.2" r="3.5"/><circle cx="350.6" cy="213.0" r="3.5"/><circle cx="352.0" cy="212.9" r="3.5"/><circle cx="353.5" cy="212.7" r="3.5"/><circle cx="354.9" cy="212.5" r="3.5"/><circle cx="356.3" cy="212.2" r="3.5"/><circle cx="357.7" cy="212.0" r="3.5"/><circle cx="359.2" cy="211.8" r="3.5"/><circle cx="360.6" cy="211.6" r="3.5"/><circle cx="362.0" cy="211.4" r="3.5"/><circle cx="363.4" cy="211.2" r="3.5"/><circle cx="364.9" cy="211.1" r="3.5"/><circle cx="366.3" cy="211.0" r="3.5"/><circle cx="367.7" cy="210.9" r="3.5"/><circle cx="369.1" cy="210.8" r="3.5"/><circle cx="370.5" cy="210.8" r="3.5"/><circle cx="372.0" cy="210.8" r="3.5"/><circle cx="373.4" cy="210.8" r="3.5"/><circle cx="374.8" cy="210.8" r="3.5"/><circle cx="376.2" cy="210.9" r="3.5"/><circle cx="377.7" cy="211.0" r="3.5"/><circle cx="379.1" cy="211.1" r="3.5"/><circle cx="380.5" cy="211.3" r="3.5"/><circle cx="381.9" cy="211.5" r="3.5"/><circle cx="383.4" cy="211.7" r="3.5"/><circle cx="384.8" cy="212.0" r="3.5"/><circle cx="386.2" cy="212.3" r="3.5"/><circle cx="387.6" cy="212.7" r="3.5"/><circle cx="389.0" cy="213.1" r="3.5"/><circle cx="390.5" cy="213.5" r="3.5"/><circle cx="391.9" cy="214.0" r="3.5"/><circle cx="393.3" cy="214.5" r="3.5"/><circle cx="394.7" cy="215.1" r="3.5"/><circle cx="396.2" cy="215.7" r="3.5"/><circle cx="397.6" cy="216.3" r="3.5"/><circle cx="399.0" cy="217.0" r="3.5"/><circle cx="400.4" cy="217.7" r="3.5"/><circle cx="401.8" cy="218.5" r="3.5"/><circle cx="403.3" cy="219.3" r="3.5"/><circle cx="404.7" cy="220.2" r="3.5"/><circle cx="406.1" cy="221.2" r="3.5"/><circle cx="407.5" cy="222.1" r="3.5"/><circle cx="409.0" cy="223.2" r="3.5"/><circle cx="410.4" cy="224.3" r="3.5"/><circle cx="411.8" cy="225.4" r="3.5"/><circle cx="413.2" cy="226.6" r="3.5"/><circle cx="414.7" cy="227.9" r="3.5"/><circle cx="416.1" cy="229.2" r="3.5"/><circle cx="417.5" cy="230.5" r="3.5"/><circle cx="418.9" cy="231.9" r="3.5"/><circle cx="420.3" cy="233.3" r="3.5"/><circle cx="421.8" cy="234.7" r="3.5"/><circle cx="423.2" cy="236.2" r="3.5"/><circle cx="424.6" cy="237.7" r="3.5"/><circle cx="426.0" cy="239.2" r="3.5"/><circle cx="427.5" cy="240.7" r="3.5"/><circle cx="428.9" cy="242.3" r="3.5"/><circle cx="430.3" cy="243.8" r="3.5"/><circle cx="431.7" cy="245.4" r="3.5"/><circle cx="433.2" cy="246.9" r="3.5"/><circle cx="434.6" cy="248.5" r="3.5"/><circle cx="436.0" cy="250.0" r="3.5"/><circle cx="437.4" cy="251.6" r="3.5"/><circle cx="438.8" cy="253.1" r="3.5"/><circle cx="440.3" cy="254.6" r="3.5"/><circle cx="441.7" cy="256.0" r="3.5"/><circle cx="443.1" cy="257.5" r="3.5"/><circle cx="444.5" cy="258.9" r="3.5"/><circle cx="446.0" cy="260.3" r="3.5"/><circle cx="447.4" cy="261.6" r="3.5"/><circle cx="448.8" cy="262.9" r="3.5"/><circle cx="450.2" cy="264.1" r="3.5"/><circle cx="451.7" cy="265.3" r="3.5"/><circle cx="453.1" cy="266.5" r="3.5"/><circle cx="454.5" cy="267.5" r="3.5"/><circle cx="455.9" cy="268.5" r="3.5"/><circle cx="457.3" cy="269.5" r="3.5"/><circle cx="458.8" cy="270.4" r="3.5"/><circle cx="460.2" cy="271.1" r="3.5"/><circle cx="461.6" cy="271.9" r="3.5"/><circle cx="463.0" cy="272.5" r="3.5"/><circle cx="464.5" cy="273.1" r="3.5"/><circle cx="465.9" cy="273.6" r="3.5"/><circle cx="467.3" cy="274.0" r="3.5"/><circle cx="468.7" cy="274.5" r="3.5"/><circle cx="470.2" cy="274.9" r="3.5"/><circle cx="471.6" cy="275.3" r="3.5"/><circle cx="473.0" cy="275.6" r="3.5"/><circle cx="474.4" cy="276.0" r="3.5"/><circle cx="475.8" cy="276.4" r="3.5"/><circle cx="477.3" cy="276.8" r="3.5"/><circle cx="478.7" cy="277.3" r="3.5"/><circle cx="480.1" cy="277.8" r="3.5"/><circle cx="481.5" cy="278.4" r="3.5"/><circle cx="483.0" cy="279.0" r="3.5"/><circle cx="484.4" cy="279.7" r="3.5"/><circle cx="485.8" cy="280.5" r="3.5"/><circle cx="487.2" cy="281.3" r="3.5"/><circle cx="488.7" cy="282.3" r="3.5"/><circle cx="490.1" cy="283.3" r="3.5"/><circle cx="491.5" cy="284.4" r="3.5"/><circle cx="492.9" cy="285.6" r="3.5"/><circle cx="494.3" cy="286.8" r="3.5"/><circle cx="495.8" cy="288.2" r="3.5"/><circle cx="497.2" cy="289.6" r="3.5"/><circle cx="498.6" cy="291.1" r="3.5"/><circle cx="500.0" cy="292.6" r="3.5"/><circle cx="501.5" cy="294.2" r="3.5"/><circle cx="502.9" cy="295.9" r="3.5"/><circle cx="504.3" cy="297.6" r="3.5"/><circle cx="505.7" cy="299.4" r="3.5"/><circle cx="507.1" cy="301.3" r="3.5"/><circle cx="508.6" cy="303.3" r="3.5"/><circle cx="510.0" cy="305.2" r="3.5"/><circle cx="511.4" cy="307.3" r="3.5"/><circle cx="512.8" cy="309.4" r="3.5"/><circle cx="514.3" cy="311.6" r="3.5"/><circle cx="515.7" cy="313.7" r="3.5"/><circle cx="517.1" cy="315.9" r="3.5"/><circle cx="518.5" cy="318.1" r="3.5"/><circle cx="520.0" cy="320.3" r="3.5"/><circle cx="521.4" cy="322.4" r="3.5"/><circle cx="522.8" cy="324.4" r="3.5"/><circle cx="524.2" cy="326.3" r="3.5"/><circle cx="525.6" cy="328.0" r="3.5"/><circle cx="527.1" cy="329.7" r="3.5"/><circle cx="528.5" cy="331.1" r="3.5"/><circle cx="529.9" cy="332.5" r="3.5"/><circle cx="531.3" cy="333.7" r="3.5"/><circle cx="532.8" cy="334.7" r="3.5"/><circle cx="534.2" cy="335.5" r="3.5"/><circle cx="535.6" cy="336.2" r="3.5"/><circle cx="537.0" cy="336.7" r="3.5"/><circle cx="538.5" cy="337.0" r="3.5"/><circle cx="539.9" cy="337.1" r="3.5"/><circle cx="541.3" cy="337.1" r="3.5"/><circle cx="542.7" cy="336.9" r="3.5"/><circle cx="544.1" cy="336.5" r="3.5"/><circle cx="545.6" cy="336.1" r="3.5"/><circle cx="547.0" cy="335.5" r="3.5"/><circle cx="548.4" cy="334.9" r="3.5"/><circle cx="549.8" cy="334.2" r="3.5"/><circle cx="551.3" cy="333.5" r="3.5"/><circle cx="552.7" cy="332.7" r="3.5"/><circle cx="554.1" cy="331.9" r="3.5"/><circle cx="555.5" cy="331.2" r="3.5"/><circle cx="557.0" cy="330.5" r="3.5"/><circle cx="558.4" cy="329.8" r="3.5"/><circle cx="559.8" cy="329.2" r="3.5"/><circle cx="561.2" cy="328.7" r="3.5"/><circle cx="562.6" cy="328.2" r="3.5"/><circle cx="564.1" cy="327.9" r="3.5"/><circle cx="565.5" cy="327.8" r="3.5"/><circle cx="566.9" cy="327.8" r="3.5"/><circle cx="568.3" cy="328.0" r="3.5"/><circle cx="569.8" cy="328.3" r="3.5"/><circle cx="571.2" cy="328.9" r="3.5"/><circle cx="572.6" cy="329.6" r="3.5"/><circle cx="574.0" cy="330.5" r="3.5"/><circle cx="575.5" cy="331.6" r="3.5"/><circle cx="576.9" cy="332.9" r="3.5"/><circle cx="578.3" cy="334.4" r="3.5"/><circle cx="579.7" cy="336.0" r="3.5"/><circle cx="581.1" cy="337.8" r="3.5"/><circle cx="582.6" cy="339.9" r="3.5"/><circle cx="584.0" cy="342.0" r="3.5"/><circle cx="585.4" cy="344.4" r="3.5"/><circle cx="586.8" cy="346.9" r="3.5"/><circle cx="588.3" cy="349.7" r="3.5"/><circle cx="589.7" cy="352.5" r="3.5"/><circle cx="591.1" cy="355.5" r="3.5"/><circle cx="592.5" cy="358.2" r="3.5"/><circle cx="594.0" cy="360.6" r="3.5"/><circle cx="595.4" cy="362.5" r="3.5"/><circle cx="596.8" cy="364.0" r="3.5"/><circle cx="598.2" cy="365.4" r="3.5"/><circle cx="599.6" cy="366.7" r="3.5"/><circle cx="601.1" cy="368.3" r="3.5"/><circle cx="602.5" cy="370.0" r="3.5"/><circle cx="603.9" cy="371.7" r="3.5"/><circle cx="605.3" cy="373.4" r="3.5"/><circle cx="606.8" cy="374.8" r="3.5"/><circle cx="608.2" cy="375.9" r="3.5"/><circle cx="609.6" cy="376.6" r="3.5"/><circle cx="611.0" cy="376.8" r="3.5"/><circle cx="612.5" cy="376.8" r="3.5"/><circle cx="613.9" cy="376.5" r="3.5"/><circle cx="615.3" cy="376.0" r="3.5"/><circle cx="616.7" cy="375.3" r="3.5"/><circle cx="618.1" cy="374.5" r="3.5"/><circle cx="619.6" cy="373.7" r="3.5"/><circle cx="621.0" cy="372.8" r="3.5"/><circle cx="622.4" cy="372.0" r="3.5"/><circle cx="623.8" cy="371.4" r="3.5"/><circle cx="625.3" cy="370.8" r="3.5"/><circle cx="626.7" cy="370.4" r="3.5"/><circle cx="628.1" cy="370.2" r="3.5"/><circle cx="629.5" cy="370.1" r="3.5"/><circle cx="630.9" cy="370.1" r="3.5"/><circle cx="632.4" cy="370.3" r="3.5"/><circle cx="633.8" cy="370.6" r="3.5"/><circle cx="635.2" cy="371.0" r="3.5"/><circle cx="636.6" cy="371.5" r="3.5"/><circle cx="638.1" cy="372.1" r="3.5"/><circle cx="639.5" cy="372.8" r="3.5"/><circle cx="640.9" cy="373.7" r="3.5"/><circle cx="642.3" cy="374.6" r="3.5"/><circle cx="643.8" cy="375.7" r="3.5"/><circle cx="645.2" cy="376.8" r="3.5"/><circle cx="646.6" cy="378.0" r="3.5"/><circle cx="648.0" cy="379.3" r="3.5"/><circle cx="649.4" cy="380.7" r="3.5"/><circle cx="650.9" cy="382.2" r="3.5"/><circle cx="652.3" cy="383.7" r="3.5"/><circle cx="653.7" cy="385.3" r="3.5"/><circle cx="655.1" cy="386.9" r="3.5"/><circle cx="656.6" cy="388.6" r="3.5"/><circle cx="658.0" cy="390.4" r="3.5"/><circle cx="659.4" cy="392.2" r="3.5"/><circle cx="660.8" cy="394.0" r="3.5"/><circle cx="662.3" cy="395.9" r="3.5"/><circle cx="663.7" cy="397.7" r="3.5"/><circle cx="665.1" cy="399.5" r="3.5"/><circle cx="666.5" cy="401.3" r="3.5"/><circle cx="667.9" cy="403.0" r="3.5"/><circle cx="669.4" cy="404.7" r="3.5"/><circle cx="670.8" cy="406.2" r="3.5"/><circle cx="672.2" cy="407.7" r="3.5"/><circle cx="673.6" cy="409.0" r="3.5"/><circle cx="675.1" cy="410.2" r="3.5"/><circle cx="676.5" cy="411.3" r="3.5"/><circle cx="677.9" cy="412.2" r="3.5"/><circle cx="679.3" cy="413.0" r="3.5"/><circle cx="680.8" cy="413.6" r="3.5"/><circle cx="682.2" cy="414.1" r="3.5"/><circle cx="683.6" cy="414.4" r="3.5"/><circle cx="685.0" cy="414.7" r="3.5"/><circle cx="686.4" cy="414.7" r="3.5"/><circle cx="687.9" cy="414.6" r="3.5"/><circle cx="689.3" cy="414.4" r="3.5"/><circle cx="690.7" cy="414.0" r="3.5"/><circle cx="692.1" cy="413.5" r="3.5"/><circle cx="693.6" cy="412.9" r="3.5"/><circle cx="695.0" cy="412.3" r="3.5"/><circle cx="696.4" cy="411.6" r="3.5"/><circle cx="697.8" cy="410.9" r="3.5"/><circle cx="699.3" cy="410.1" r="3.5"/><circle cx="700.7" cy="409.5" r="3.5"/><circle cx="702.1" cy="408.8" r="3.5"/><circle cx="703.5" cy="408.3" r="3.5"/><circle cx="704.9" cy="407.8" r="3.5"/><circle cx="706.4" cy="407.5" r="3.5"/><circle cx="707.8" cy="407.3" r="3.5"/><circle cx="709.2" cy="407.4" r="3.5"/><circle cx="710.6" cy="407.6" r="3.5"/><circle cx="712.1" cy="408.0" r="3.5"/><circle cx="713.5" cy="408.8" r="3.5"/><circle cx="714.9" cy="409.7" r="3.5"/><circle cx="716.3" cy="411.0" r="3.5"/><circle cx="717.8" cy="412.5" r="3.5"/><circle cx="719.2" cy="414.0" r="3.5"/><circle cx="720.6" cy="415.4" r="3.5"/><circle cx="722.0" cy="416.6" r="3.5"/><circle cx="723.4" cy="417.6" r="3.5"/><circle cx="724.9" cy="418.5" r="3.5"/><circle cx="726.3" cy="419.4" r="3.5"/><circle cx="727.7" cy="420.4" r="3.5"/><circle cx="729.1" cy="421.6" r="3.5"/><circle cx="730.6" cy="423.1" r="3.5"/><circle cx="732.0" cy="424.7" r="3.5"/><circle cx="733.4" cy="426.5" r="3.5"/><circle cx="734.8" cy="428.4" r="3.5"/><circle cx="736.3" cy="430.5" r="3.5"/><circle cx="737.7" cy="432.6" r="3.5"/><circle cx="739.1" cy="434.9" r="3.5"/><circle cx="740.5" cy="437.2" r="3.5"/><circle cx="741.9" cy="439.5" r="3.5"/><circle cx="743.4" cy="441.9" r="3.5"/><circle cx="744.8" cy="444.2" r="3.5"/><circle cx="746.2" cy="446.5" r="3.5"/><circle cx="747.6" cy="448.7" r="3.5"/><circle cx="749.1" cy="450.8" r="3.5"/><circle cx="750.5" cy="452.8" r="3.5"/><circle cx="751.9" cy="454.7" r="3.5"/><circle cx="753.3" cy="456.4" r="3.5"/><circle cx="754.7" cy="457.9" r="3.5"/><circle cx="756.2" cy="459.2" r="3.5"/><circle cx="757.6" cy="460.2" r="3.5"/><circle cx="759.0" cy="461.0" r="3.5"/><circle cx="760.4" cy="461.5" r="3.5"/><circle cx="761.9" cy="461.7" r="3.5"/><circle cx="763.3" cy="461.5" r="3.5"/><circle cx="764.7" cy="461.0" r="3.5"/><circle cx="766.1" cy="460.0" r="3.5"/><circle cx="767.6" cy="458.7" r="3.5"/><circle cx="769.0" cy="457.4" r="3.5"/><circle cx="770.4" cy="456.6" r="3.5"/><circle cx="771.8" cy="456.3" r="3.5"/><circle cx="773.2" cy="456.4" r="3.5"/><circle cx="774.7" cy="456.9" r="3.5"/><circle cx="776.1" cy="457.8" r="3.5"/><circle cx="777.5" cy="459.1" r="3.5"/><circle cx="778.9" cy="460.6" r="3.5"/><circle cx="780.4" cy="462.4" r="3.5"/><circle cx="781.8" cy="464.4" r="3.5"/><circle cx="783.2" cy="466.6" r="3.5"/><circle cx="784.6" cy="469.0" r="3.5"/><circle cx="786.1" cy="471.5" r="3.5"/><circle cx="787.5" cy="474.1" r="3.5"/><circle cx="788.9" cy="476.8" r="3.5"/><circle cx="790.3" cy="479.6" r="3.5"/><circle cx="791.7" cy="482.5" r="3.5"/><circle cx="793.2" cy="485.6" r="3.5"/><circle cx="794.6" cy="488.9" r="3.5"/><circle cx="796.0" cy="492.6" r="3.5"/><circle cx="797.4" cy="496.6" r="3.5"/><circle cx="798.9" cy="501.1" r="3.5"/><circle cx="800.3" cy="505.9" r="3.5"/><circle cx="801.7" cy="510.9" r="3.5"/><circle cx="803.1" cy="515.6" r="3.5"/><circle cx="804.6" cy="520.0" r="3.5"/><circle cx="806.0" cy="523.6" r="3.5"/><circle cx="807.4" cy="526.2" r="3.5"/><circle cx="808.8" cy="527.8" r="3.5"/><circle cx="810.2" cy="528.4" r="3.5"/><circle cx="811.7" cy="528.2" r="3.5"/><circle cx="813.1" cy="527.2" r="3.5"/><circle cx="814.5" cy="525.5" r="3.5"/><circle cx="815.9" cy="523.2" r="3.5"/><circle cx="817.4" cy="520.4" r="3.5"/><circle cx="818.8" cy="517.3" r="3.5"/><circle cx="820.2" cy="514.2" r="3.5"/><circle cx="821.6" cy="511.0" r="3.5"/><circle cx="823.1" cy="508.0" r="3.5"/><circle cx="824.5" cy="505.2" r="3.5"/><circle cx="825.9" cy="502.3" r="3.5"/><circle cx="827.3" cy="499.6" r="3.5"/><circle cx="828.7" cy="496.8" r="3.5"/><circle cx="830.2" cy="494.0" r="3.5"/><circle cx="831.6" cy="491.3" r="3.5"/><circle cx="833.0" cy="488.4" r="3.5"/><circle cx="834.4" cy="485.6" r="3.5"/><circle cx="835.9" cy="482.9" r="3.5"/><circle cx="837.3" cy="480.5" r="3.5"/><circle cx="838.7" cy="478.4" r="3.5"/><circle cx="840.1" cy="476.7" r="3.5"/><circle cx="841.6" cy="475.3" r="3.5"/><circle cx="843.0" cy="474.2" r="3.5"/><circle cx="844.4" cy="473.4" r="3.5"/><circle cx="845.8" cy="472.8" r="3.5"/><circle cx="847.2" cy="472.5" r="3.5"/><circle cx="848.7" cy="472.3" r="3.5"/><circle cx="850.1" cy="472.4" r="3.5"/><circle cx="851.5" cy="472.6" r="3.5"/><circle cx="852.9" cy="472.9" r="3.5"/><circle cx="854.4" cy="473.4" r="3.5"/><circle cx="855.8" cy="474.0" r="3.5"/><circle cx="857.2" cy="474.7" r="3.5"/><circle cx="858.6" cy="475.4" r="3.5"/><circle cx="860.0" cy="476.2" r="3.5"/><circle cx="861.5" cy="477.0" r="3.5"/><circle cx="862.9" cy="477.8" r="3.5"/><circle cx="864.3" cy="478.7" r="3.5"/><circle cx="865.7" cy="479.7" r="3.5"/><circle cx="867.2" cy="480.7" r="3.5"/><circle cx="868.6" cy="481.9" r="3.5"/><circle cx="870.0" cy="483.1" r="3.5"/><circle cx="871.4" cy="484.6" r="3.5"/><circle cx="872.9" cy="486.1" r="3.5"/><circle cx="874.3" cy="488.0" r="3.5"/><circle cx="875.7" cy="490.2" r="3.5"/><circle cx="877.1" cy="492.6" r="3.5"/><circle cx="878.5" cy="495.1" r="3.5"/><circle cx="880.0" cy="497.7" r="3.5"/><circle cx="881.4" cy="500.3" r="3.5"/><circle cx="882.8" cy="502.9" r="3.5"/><circle cx="884.2" cy="505.5" r="3.5"/><circle cx="885.7" cy="508.4" r="3.5"/><circle cx="887.1" cy="511.8" r="3.5"/><circle cx="888.5" cy="515.5" r="3.5"/><circle cx="889.9" cy="519.3" r="3.5"/><circle cx="891.4" cy="523.1" r="3.5"/><circle cx="892.8" cy="527.0" r="3.5"/><circle cx="894.2" cy="531.0" r="3.5"/><circle cx="895.6" cy="533.5" r="3.5"/><circle cx="897.0" cy="537.2" r="3.5"/><circle cx="898.5" cy="541.3" r="3.5"/><circle cx="899.9" cy="546.5" r="3.5"/><circle cx="901.3" cy="554.0" r="3.5"/><circle cx="902.7" cy="563.3" r="3.5"/><circle cx="904.2" cy="572.2" r="3.5"/><circle cx="905.6" cy="580.1" r="3.5"/><circle cx="907.0" cy="588.9" r="3.5"/><circle cx="908.4" cy="599.5" r="3.5"/><circle cx="909.9" cy="613.3" r="3.5"/><circle cx="911.3" cy="630.6" r="3.5"/><circle cx="912.7" cy="368.2" r="3.5"/></g><g fill="#edb120"><circle cx="101.6" cy="71.8" r="3.5"/><circle cx="103.0" cy="71.8" r="3.5"/><circle cx="104.4" cy="71.6" r="3.5"/><circle cx="105.9" cy="71.3" r="3.5"/><circle cx="107.3" cy="70.9" r="3.5"/><circle cx="108.7" cy="70.5" r="3.5"/><circle cx="110.1" cy="70.1" r="3.5"/><circle cx="111.6" cy="69.8" r="3.5"/><circle cx="113.0" cy="69.5" r="3.5"/><circle cx="114.4" cy="69.5" r="3.5"/><circle cx="115.8" cy="69.5" r="3.5"/><circle cx="117.3" cy="69.8" r="3.5"/><circle cx="118.7" cy="70.2" r="3.5"/><circle cx="120.1" cy="70.8" r="3.5"/><circle cx="121.5" cy="71.5" r="3.5"/><circle cx="122.9" cy="72.2" r="3.5"/><circle cx="124.4" cy="73.1" r="3.5"/><circle cx="125.8" cy="74.0" r="3.5"/><circle cx="127.2" cy="75.0" r="3.5"/><circle cx="128.6" cy="75.9" r="3.5"/><circle cx="130.1" cy="76.9" r="3.5"/><circle cx="131.5" cy="77.9" r="3.5"/><circle cx="132.9" cy="78.8" r="3.5"/><circle cx="134.3" cy="79.7" r="3.5"/><circle cx="135.8" cy="80.6" r="3.5"/><circle cx="137.2" cy="81.4" r="3.5"/><circle cx="138.6" cy="82.2" r="3.5"/><circle cx="140.0" cy="83.0" r="3.5"/><circle cx="141.4" cy="83.7" r="3.5"/><circle cx="142.9" cy="84.4" r="3.5"/><circle cx="144.3" cy="85.1" r="3.5"/><circle cx="145.7" cy="85.7" r="3.5"/><circle cx="147.1" cy="86.2" r="3.5"/><circle cx="148.6" cy="86.7" r="3.5"/><circle cx="150.0" cy="87.2" r="3.5"/><circle cx="151.4" cy="87.6" r="3.5"/><circle cx="152.8" cy="87.9" r="3.5"/><circle cx="154.3" cy="88.2" r="3.5"/><circle cx="155.7" cy="88.5" r="3.5"/><circle cx="157.1" cy="88.7" r="3.5"/><circle cx="158.5" cy="88.9" r="3.5"/><circle cx="159.9" cy="89.1" r="3.5"/><circle cx="161.4" cy="89.3" r="3.5"/><circle cx="162.8" cy="89.5" r="3.5"/><circle cx="164.2" cy="89.7" r="3.5"/><circle cx="165.6" cy="89.8" r="3.5"/><circle cx="167.1" cy="90.0" r="3.5"/><circle cx="168.5" cy="90.2" r="3.5"/><circle cx="169.9" cy="90.5" r="3.5"/><circle cx="171.3" cy="90.7" r="3.5"/><circle cx="172.7" cy="91.0" r="3.5"/><circle cx="174.2" cy="91.4" r="3.5"/><circle cx="175.6" cy="91.7" r="3.5"/><circle cx="177.0" cy="92.2" r="3.5"/><circle cx="178.4" cy="92.6" r="3.5"/><circle cx="179.9" cy="93.1" r="3.5"/><circle cx="181.3" cy="93.7" r="3.5"/><circle cx="182.7" cy="94.3" r="3.5"/><circle cx="184.1" cy="94.9" r="3.5"/><circle cx="185.6" cy="95.6" r="3.5"/><circle cx="187.0" cy="96.3" r="3.5"/><circle cx="188.4" cy="97.0" r="3.5"/><circle cx="189.8" cy="97.8" r="3.5"/><circle cx="191.2" cy="98.6" r="3.5"/><circle cx="192.7" cy="99.4" r="3.5"/><circle cx="194.1" cy="100.3" r="3.5"/><circle cx="195.5" cy="101.2" r="3.5"/><circle cx="196.9" cy="102.1" r="3.5"/><circle cx="198.4" cy="103.0" r="3.5"/><circle cx="199.8" cy="104.0" r="3.5"/><circle cx="201.2" cy="104.9" r="3.5"/><circle cx="202.6" cy="105.9" r="3.5"/><circle cx="204.1" cy="107.0" r="3.5"/><circle cx="205.5" cy="108.0" r="3.5"/><circle cx="206.9" cy="109.0" r="3.5"/><circle cx="208.3" cy="110.1" r="3.5"/><circle cx="209.7" cy="111.2" r="3.5"/><circle cx="211.2" cy="112.3" r="3.5"/><circle cx="212.6" cy="113.4" r="3.5"/><circle cx="214.0" cy="114.5" r="3.5"/><circle cx="215.4" cy="115.6" r="3.5"/><circle cx="216.9" cy="116.8" r="3.5"/><circle cx="218.3" cy="118.0" r="3.5"/><circle cx="219.7" cy="119.3" r="3.5"/><circle cx="221.1" cy="120.6" r="3.5"/><circle cx="222.6" cy="122.0" r="3.5"/><circle cx="224.0" cy="123.4" r="3.5"/><circle cx="225.4" cy="125.0" r="3.5"/><circle cx="226.8" cy="126.6" r="3.5"/><circle cx="228.2" cy="128.3" r="3.5"/><circle cx="229.7" cy="130.0" r="3.5"/><circle cx="231.1" cy="131.9" r="3.5"/><circle cx="232.5" cy="133.9" r="3.5"/><circle cx="233.9" cy="135.8" r="3.5"/><circle cx="235.4" cy="137.8" r="3.5"/><circle cx="236.8" cy="139.8" r="3.5"/><circle cx="238.2" cy="141.7" r="3.5"/><circle cx="239.6" cy="143.6" r="3.5"/><circle cx="241.1" cy="145.4" r="3.5"/><circle cx="242.5" cy="147.0" r="3.5"/><circle cx="243.9" cy="148.6" r="3.5"/><circle cx="245.3" cy="150.1" r="3.5"/><circle cx="246.7" cy="151.4" r="3.5"/><circle cx="248.2" cy="152.7" r="3.5"/><circle cx="249.6" cy="153.9" r="3.5"/><circle cx="251.0" cy="154.9" r="3.5"/><circle cx="252.4" cy="155.9" r="3.5"/><circle cx="253.9" cy="156.8" r="3.5"/><circle cx="255.3" cy="157.6" r="3.5"/><circle cx="256.7" cy="158.4" r="3.5"/><circle cx="258.1" cy="159.0" r="3.5"/><circle cx="259.6" cy="159.6" r="3.5"/><circle cx="261.0" cy="160.1" r="3.5"/><circle cx="262.4" cy="160.5" r="3.5"/><circle cx="263.8" cy="160.9" r="3.5"/><circle cx="265.2" cy="161.1" r="3.5"/><circle cx="266.7" cy="161.3" r="3.5"/><circle cx="268.1" cy="161.5" r="3.5"/><circle cx="269.5" cy="161.6" r="3.5"/><circle cx="270.9" cy="161.6" r="3.5"/><circle cx="272.4" cy="161.5" r="3.5"/><circle cx="273.8" cy="161.4" r="3.5"/><circle cx="275.2" cy="161.2" r="3.5"/><circle cx="276.6" cy="161.0" r="3.5"/><circle cx="278.0" cy="160.7" r="3.5"/><circle cx="279.5" cy="160.4" r="3.5"/><circle cx="280.9" cy="160.1" r="3.5"/><circle cx="282.3" cy="159.7" r="3.5"/><circle cx="283.7" cy="159.2" r="3.5"/><circle cx="285.2" cy="158.7" r="3.5"/><circle cx="286.6" cy="158.2" r="3.5"/><circle cx="288.0" cy="157.7" r="3.5"/><circle cx="289.4" cy="157.1" r="3.5"/><circle cx="290.9" cy="156.5" r="3.5"/><circle cx="292.3" cy="155.9" r="3.5"/><circle cx="293.7" cy="155.2" r="3.5"/><circle cx="295.1" cy="154.6" r="3.5"/><circle cx="296.5" cy="153.9" r="3.5"/><circle cx="298.0" cy="153.2" r="3.5"/><circle cx="299.4" cy="152.5" r="3.5"/><circle cx="300.8" cy="151.8" r="3.5"/><circle cx="302.2" cy="151.1" r="3.5"/><circle cx="303.7" cy="150.4" r="3.5"/><circle cx="305.1" cy="149.7" r="3.5"/><circle cx="306.5" cy="149.1" r="3.5"/><circle cx="307.9" cy="148.5" r="3.5"/><circle cx="309.4" cy="148.0" r="3.5"/><circle cx="310.8" cy="147.5" r="3.5"/><circle cx="312.2" cy="147.2" r="3.5"/><circle cx="313.6" cy="147.1" r="3.5"/><circle cx="315.0" cy="147.1" r="3.5"/><circle cx="316.5" cy="147.3" r="3.5"/><circle cx="317.9" cy="147.8" r="3.5"/><circle cx="319.3" cy="148.4" r="3.5"/><circle cx="320.7" cy="149.3" r="3.5"/><circle cx="322.2" cy="150.5" r="3.5"/><circle cx="323.6" cy="152.0" r="3.5"/><circle cx="325.0" cy="153.8" r="3.5"/><circle cx="326.4" cy="155.9" r="3.5"/><circle cx="327.9" cy="158.4" r="3.5"/><circle cx="329.3" cy="161.3" r="3.5"/><circle cx="330.7" cy="164.6" r="3.5"/><circle cx="332.1" cy="168.4" r="3.5"/><circle cx="333.5" cy="172.6" r="3.5"/><circle cx="335.0" cy="177.4" r="3.5"/><circle cx="336.4" cy="182.6" r="3.5"/><circle cx="337.8" cy="188.1" r="3.5"/><circle cx="339.2" cy="193.4" r="3.5"/><circle cx="340.7" cy="198.6" r="3.5"/><circle cx="342.1" cy="203.7" r="3.5"/><circle cx="343.5" cy="208.8" r="3.5"/><circle cx="344.9" cy="213.9" r="3.5"/><circle cx="346.4" cy="219.0" r="3.5"/><circle cx="347.8" cy="224.1" r="3.5"/><circle cx="349.2" cy="229.2" r="3.5"/><circle cx="350.6" cy="234.2" r="3.5"/><circle cx="352.0" cy="239.3" r="3.5"/><circle cx="353.5" cy="244.4" r="3.5"/><circle cx="354.9" cy="249.3" r="3.5"/><circle cx="356.3" cy="253.5" r="3.5"/><circle cx="357.7" cy="256.5" r="3.5"/><circle cx="359.2" cy="258.0" r="3.5"/><circle cx="360.6" cy="257.9" r="3.5"/><circle cx="362.0" cy="256.3" r="3.5"/><circle cx="363.4" cy="253.6" r="3.5"/><circle cx="364.9" cy="250.2" r="3.5"/><circle cx="366.3" cy="246.4" r="3.5"/><circle cx="367.7" cy="242.4" r="3.5"/><circle cx="369.1" cy="238.3" r="3.5"/><circle cx="370.5" cy="234.2" r="3.5"/><circle cx="372.0" cy="230.1" r="3.5"/><circle cx="373.4" cy="226.2" r="3.5"/><circle cx="374.8" cy="222.5" r="3.5"/><circle cx="376.2" cy="219.0" r="3.5"/><circle cx="377.7" cy="215.7" r="3.5"/><circle cx="379.1" cy="212.7" r="3.5"/><circle cx="380.5" cy="209.9" r="3.5"/><circle cx="381.9" cy="207.4" r="3.5"/><circle cx="383.4" cy="205.1" r="3.5"/><circle cx="384.8" cy="203.1" r="3.5"/><circle cx="386.2" cy="201.2" r="3.5"/><circle cx="387.6" cy="199.6" r="3.5"/><circle cx="389.0" cy="198.3" r="3.5"/><circle cx="390.5" cy="197.2" r="3.5"/><circle cx="391.9" cy="196.3" r="3.5"/><circle cx="393.3" cy="195.6" r="3.5"/><circle cx="394.7" cy="195.2" r="3.5"/><circle cx="396.2" cy="195.0" r="3.5"/><circle cx="397.6" cy="194.9" r="3.5"/><circle cx="399.0" cy="195.1" r="3.5"/><circle cx="400.4" cy="195.4" r="3.5"/><circle cx="401.8" cy="195.9" r="3.5"/><circle cx="403.3" cy="196.6" r="3.5"/><circle cx="404.7" cy="197.5" r="3.5"/><circle cx="406.1" cy="198.4" r="3.5"/><circle cx="407.5" cy="199.5" r="3.5"/><circle cx="409.0" cy="200.8" r="3.5"/><circle cx="410.4" cy="202.1" r="3.5"/><circle cx="411.8" cy="203.6" r="3.5"/><circle cx="413.2" cy="205.1" r="3.5"/><circle cx="414.7" cy="206.8" r="3.5"/><circle cx="416.1" cy="208.5" r="3.5"/><circle cx="417.5" cy="210.3" r="3.5"/><circle cx="418.9" cy="212.1" r="3.5"/><circle cx="420.3" cy="214.0" r="3.5"/><circle cx="421.8" cy="215.9" r="3.5"/><circle cx="423.2" cy="217.9" r="3.5"/><circle cx="424.6" cy="219.9" r="3.5"/><circle cx="426.0" cy="221.9" r="3.5"/><circle cx="427.5" cy="223.9" r="3.5"/><circle cx="428.9" cy="225.9" r="3.5"/><circle cx="430.3" cy="227.9" r="3.5"/><circle cx="431.7" cy="229.8" r="3.5"/><circle cx="433.2" cy="231.8" r="3.5"/><circle cx="434.6" cy="233.6" r="3.5"/><circle cx="436.0" cy="235.4" r="3.5"/><circle cx="437.4" cy="237.2" r="3.5"/><circle cx="438.8" cy="238.8" r="3.5"/><circle cx="440.3" cy="240.4" r="3.5"/><circle cx="441.7" cy="241.9" r="3.5"/><circle cx="443.1" cy="243.2" r="3.5"/><circle cx="444.5" cy="244.5" r="3.5"/><circle cx="446.0" cy="245.7" r="3.5"/><circle cx="447.4" cy="246.8" r="3.5"/><circle cx="448.8" cy="247.9" r="3.5"/><circle cx="450.2" cy="248.9" r="3.5"/><circle cx="451.7" cy="249.8" r="3.5"/><circle cx="453.1" cy="250.6" r="3.5"/><circle cx="454.5" cy="251.4" r="3.5"/><circle cx="455.9" cy="252.1" r="3.5"/><circle cx="457.3" cy="252.8" r="3.5"/><circle cx="458.8" cy="253.4" r="3.5"/><circle cx="460.2" cy="253.9" r="3.5"/><circle cx="461.6" cy="254.5" r="3.5"/><circle cx="463.0" cy="254.9" r="3.5"/><circle cx="464.5" cy="255.4" r="3.5"/><circle cx="465.9" cy="255.8" r="3.5"/><circle cx="467.3" cy="256.2" r="3.5"/><circle cx="468.7" cy="256.6" r="3.5"/><circle cx="470.2" cy="256.9" r="3.5"/><circle cx="471.6" cy="257.3" r="3.5"/><circle cx="473.0" cy="257.6" r="3.5"/><circle cx="474.4" cy="258.0" r="3.5"/><circle cx="475.8" cy="258.3" r="3.5"/><circle cx="477.3" cy="258.8" r="3.5"/><circle cx="478.7" cy="259.2" r="3.5"/><circle cx="480.1" cy="259.7" r="3.5"/><circle cx="481.5" cy="260.2" r="3.5"/><circle cx="483.0" cy="260.8" r="3.5"/><circle cx="484.4" cy="261.4" r="3.5"/><circle cx="485.8" cy="262.1" r="3.5"/><circle cx="487.2" cy="262.9" r="3.5"/><circle cx="488.7" cy="263.8" r="3.5"/><circle cx="490.1" cy="264.8" r="3.5"/><circle cx="491.5" cy="265.9" r="3.5"/><circle cx="492.9" cy="267.1" r="3.5"/><circle cx="494.3" cy="268.4" r="3.5"/><circle cx="495.8" cy="269.8" r="3.5"/><circle cx="497.2" cy="271.4" r="3.5"/><circle cx="498.6" cy="273.1" r="3.5"/><circle cx="500.0" cy="274.9" r="3.5"/><circle cx="501.5" cy="276.9" r="3.5"/><circle cx="502.9" cy="279.0" r="3.5"/><circle cx="504.3" cy="281.2" r="3.5"/><circle cx="505.7" cy="283.5" r="3.5"/><circle cx="507.1" cy="286.0" r="3.5"/><circle cx="508.6" cy="288.5" r="3.5"/><circle cx="510.0" cy="291.2" r="3.5"/><circle cx="511.4" cy="294.0" r="3.5"/><circle cx="512.8" cy="296.8" r="3.5"/><circle cx="514.3" cy="299.8" r="3.5"/><circle cx="515.7" cy="302.8" r="3.5"/><circle cx="517.1" cy="305.8" r="3.5"/><circle cx="518.5" cy="308.7" r="3.5"/><circle cx="520.0" cy="311.6" r="3.5"/><circle cx="521.4" cy="314.4" r="3.5"/><circle cx="522.8" cy="317.1" r="3.5"/><circle cx="524.2" cy="319.5" r="3.5"/><circle cx="525.6" cy="321.8" r="3.5"/><circle cx="527.1" cy="323.8" r="3.5"/><circle cx="528.5" cy="325.6" r="3.5"/><circle cx="529.9" cy="327.1" r="3.5"/><circle cx="531.3" cy="328.4" r="3.5"/><circle cx="532.8" cy="329.3" r="3.5"/><circle cx="534.2" cy="330.0" r="3.5"/><circle cx="535.6" cy="330.3" r="3.5"/><circle cx="537.0" cy="330.2" r="3.5"/><circle cx="538.5" cy="329.9" r="3.5"/><circle cx="539.9" cy="329.3" r="3.5"/><circle cx="541.3" cy="328.5" r="3.5"/><circle cx="542.7" cy="327.6" r="3.5"/><circle cx="544.1" cy="326.5" r="3.5"/><circle cx="545.6" cy="325.4" r="3.5"/><circle cx="547.0" cy="324.3" r="3.5"/><circle cx="548.4" cy="323.1" r="3.5"/><circle cx="549.8" cy="321.9" r="3.5"/><circle cx="551.3" cy="320.6" r="3.5"/><circle cx="552.7" cy="319.4" r="3.5"/><circle cx="554.1" cy="318.2" r="3.5"/><circle cx="555.5" cy="316.9" r="3.5"/><circle cx="557.0" cy="315.8" r="3.5"/><circle cx="558.4" cy="314.7" r="3.5"/><circle cx="559.8" cy="313.6" r="3.5"/><circle cx="561.2" cy="312.6" r="3.5"/><circle cx="562.6" cy="311.8" r="3.5"/><circle cx="564.1" cy="311.0" r="3.5"/><circle cx="565.5" cy="310.3" r="3.5"/><circle cx="566.9" cy="309.8" r="3.5"/><circle cx="568.3" cy="309.4" r="3.5"/><circle cx="569.8" cy="309.1" r="3.5"/><circle cx="571.2" cy="308.9" r="3.5"/><circle cx="572.6" cy="308.9" r="3.5"/><circle cx="574.0" cy="309.0" r="3.5"/><circle cx="575.5" cy="309.2" r="3.5"/><circle cx="576.9" cy="309.6" r="3.5"/><circle cx="578.3" cy="310.1" r="3.5"/><circle cx="579.7" cy="310.7" r="3.5"/><circle cx="581.1" cy="311.5" r="3.5"/><circle cx="582.6" cy="312.5" r="3.5"/><circle cx="584.0" cy="313.5" r="3.5"/><circle cx="585.4" cy="314.8" r="3.5"/><circle cx="586.8" cy="316.1" r="3.5"/><circle cx="588.3" cy="317.5" r="3.5"/><circle cx="589.7" cy="318.9" r="3.5"/><circle cx="591.1" cy="320.5" r="3.5"/><circle cx="592.5" cy="322.0" r="3.5"/><circle cx="594.0" cy="323.5" r="3.5"/><circle cx="595.4" cy="325.1" r="3.5"/><circle cx="596.8" cy="326.6" r="3.5"/><circle cx="598.2" cy="328.0" r="3.5"/><circle cx="599.6" cy="329.4" r="3.5"/><circle cx="601.1" cy="331.0" r="3.5"/><circle cx="602.5" cy="332.7" r="3.5"/><circle cx="603.9" cy="334.6" r="3.5"/><circle cx="605.3" cy="336.7" r="3.5"/><circle cx="606.8" cy="338.9" r="3.5"/><circle cx="608.2" cy="341.1" r="3.5"/><circle cx="609.6" cy="343.5" r="3.5"/><circle cx="611.0" cy="346.0" r="3.5"/><circle cx="612.5" cy="348.6" r="3.5"/><circle cx="613.9" cy="351.1" r="3.5"/><circle cx="615.3" cy="353.8" r="3.5"/><circle cx="616.7" cy="356.4" r="3.5"/><circle cx="618.1" cy="359.1" r="3.5"/><circle cx="619.6" cy="361.7" r="3.5"/><circle cx="621.0" cy="364.3" r="3.5"/><circle cx="622.4" cy="366.8" r="3.5"/><circle cx="623.8" cy="369.3" r="3.5"/><circle cx="625.3" cy="371.7" r="3.5"/><circle cx="626.7" cy="374.1" r="3.5"/><circle cx="628.1" cy="376.3" r="3.5"/><circle cx="629.5" cy="378.3" r="3.5"/><circle cx="630.9" cy="380.3" r="3.5"/><circle cx="632.4" cy="382.0" r="3.5"/><circle cx="633.8" cy="383.7" r="3.5"/><circle cx="635.2" cy="385.2" r="3.5"/><circle cx="636.6" cy="386.7" r="3.5"/><circle cx="638.1" cy="388.1" r="3.5"/><circle cx="639.5" cy="389.5" r="3.5"/><circle cx="640.9" cy="390.9" r="3.5"/><circle cx="642.3" cy="392.4" r="3.5"/><circle cx="643.8" cy="394.0" r="3.5"/><circle cx="645.2" cy="395.7" r="3.5"/><circle cx="646.6" cy="397.6" r="3.5"/><circle cx="648.0" cy="399.7" r="3.5"/><circle cx="649.4" cy="401.9" r="3.5"/><circle cx="650.9" cy="404.1" r="3.5"/><circle cx="652.3" cy="406.4" r="3.5"/><circle cx="653.7" cy="408.6" r="3.5"/><circle cx="655.1" cy="410.7" r="3.5"/><circle cx="656.6" cy="412.6" r="3.5"/><circle cx="658.0" cy="414.4" r="3.5"/><circle cx="659.4" cy="415.9" r="3.5"/><circle cx="660.8" cy="417.1" r="3.5"/><circle cx="662.3" cy="418.0" r="3.5"/><circle cx="663.7" cy="418.5" r="3.5"/><circle cx="665.1" cy="418.7" r="3.5"/><circle cx="666.5" cy="418.5" r="3.5"/><circle cx="667.9" cy="417.9" r="3.5"/><circle cx="669.4" cy="417.1" r="3.5"/><circle cx="670.8" cy="416.1" r="3.5"/><circle cx="672.2" cy="414.8" r="3.5"/><circle cx="673.6" cy="413.4" r="3.5"/><circle cx="675.1" cy="411.9" r="3.5"/><circle cx="676.5" cy="410.2" r="3.5"/><circle cx="677.9" cy="408.5" r="3.5"/><circle cx="679.3" cy="406.8" r="3.5"/><circle cx="680.8" cy="405.1" r="3.5"/><circle cx="682.2" cy="403.4" r="3.5"/><circle cx="683.6" cy="401.7" r="3.5"/><circle cx="685.0" cy="400.1" r="3.5"/><circle cx="686.4" cy="398.5" r="3.5"/><circle cx="687.9" cy="397.0" r="3.5"/><circle cx="689.3" cy="395.6" r="3.5"/><circle cx="690.7" cy="394.2" r="3.5"/><circle cx="692.1" cy="392.9" r="3.5"/><circle cx="693.6" cy="391.8" r="3.5"/><circle cx="695.0" cy="390.7" r="3.5"/><circle cx="696.4" cy="389.8" r="3.5"/><circle cx="697.8" cy="389.0" r="3.5"/><circle cx="699.3" cy="388.3" r="3.5"/><circle cx="700.7" cy="387.8" r="3.5"/><circle cx="702.1" cy="387.5" r="3.5"/><circle cx="703.5" cy="387.4" r="3.5"/><circle cx="704.9" cy="387.4" r="3.5"/><circle cx="706.4" cy="387.7" r="3.5"/><circle cx="707.8" cy="388.1" r="3.5"/><circle cx="709.2" cy="388.8" r="3.5"/><circle cx="710.6" cy="389.7" r="3.5"/><circle cx="712.1" cy="390.9" r="3.5"/><circle cx="713.5" cy="392.3" r="3.5"/><circle cx="714.9" cy="394.0" r="3.5"/><circle cx="716.3" cy="395.9" r="3.5"/><circle cx="717.8" cy="398.2" r="3.5"/><circle cx="719.2" cy="400.8" r="3.5"/><circle cx="720.6" cy="403.6" r="3.5"/><circle cx="722.0" cy="406.9" r="3.5"/><circle cx="723.4" cy="410.4" r="3.5"/><circle cx="724.9" cy="414.3" r="3.5"/><circle cx="726.3" cy="418.5" r="3.5"/><circle cx="727.7" cy="422.9" r="3.5"/><circle cx="729.1" cy="427.4" r="3.5"/><circle cx="730.6" cy="431.8" r="3.5"/><circle cx="732.0" cy="436.0" r="3.5"/><circle cx="733.4" cy="439.9" r="3.5"/><circle cx="734.8" cy="443.5" r="3.5"/><circle cx="736.3" cy="446.7" r="3.5"/><circle cx="737.7" cy="449.8" r="3.5"/><circle cx="739.1" cy="452.8" r="3.5"/><circle cx="740.5" cy="455.5" r="3.5"/><circle cx="741.9" cy="458.1" r="3.5"/><circle cx="743.4" cy="460.5" r="3.5"/><circle cx="744.8" cy="462.7" r="3.5"/><circle cx="746.2" cy="464.8" r="3.5"/><circle cx="747.6" cy="466.6" r="3.5"/><circle cx="749.1" cy="468.2" r="3.5"/><circle cx="750.5" cy="469.7" r="3.5"/><circle cx="751.9" cy="470.9" r="3.5"/><circle cx="753.3" cy="471.8" r="3.5"/><circle cx="754.7" cy="472.6" r="3.5"/><circle cx="756.2" cy="473.1" r="3.5"/><circle cx="757.6" cy="473.4" r="3.5"/><circle cx="759.0" cy="473.4" r="3.5"/><circle cx="760.4" cy="473.1" r="3.5"/><circle cx="761.9" cy="472.6" r="3.5"/><circle cx="763.3" cy="472.0" r="3.5"/><circle cx="764.7" cy="471.1" r="3.5"/><circle cx="766.1" cy="470.2" r="3.5"/><circle cx="767.6" cy="469.2" r="3.5"/><circle cx="769.0" cy="468.1" r="3.5"/><circle cx="770.4" cy="467.1" r="3.5"/><circle cx="771.8" cy="466.1" r="3.5"/><circle cx="773.2" cy="465.2" r="3.5"/><circle cx="774.7" cy="464.5" r="3.5"/><circle cx="776.1" cy="464.0" r="3.5"/><circle cx="777.5" cy="463.6" r="3.5"/><circle cx="778.9" cy="463.5" r="3.5"/><circle cx="780.4" cy="463.5" r="3.5"/><circle cx="781.8" cy="463.6" r="3.5"/><circle cx="783.2" cy="464.0" r="3.5"/><circle cx="784.6" cy="464.4" r="3.5"/><circle cx="786.1" cy="465.0" r="3.5"/><circle cx="787.5" cy="465.7" r="3.5"/><circle cx="788.9" cy="466.5" r="3.5"/><circle cx="790.3" cy="467.4" r="3.5"/><circle cx="791.7" cy="468.3" r="3.5"/><circle cx="793.2" cy="469.4" r="3.5"/><circle cx="794.6" cy="470.5" r="3.5"/><circle cx="796.0" cy="471.6" r="3.5"/><circle cx="797.4" cy="472.8" r="3.5"/><circle cx="798.9" cy="474.0" r="3.5"/><circle cx="800.3" cy="475.2" r="3.5"/><circle cx="801.7" cy="476.5" r="3.5"/><circle cx="803.1" cy="477.7" r="3.5"/><circle cx="804.6" cy="479.0" r="3.5"/><circle cx="806.0" cy="480.3" r="3.5"/><circle cx="807.4" cy="481.6" r="3.5"/><circle cx="808.8" cy="483.0" r="3.5"/><circle cx="810.2" cy="484.5" r="3.5"/><circle cx="811.7" cy="486.2" r="3.5"/><circle cx="813.1" cy="487.9" r="3.5"/><circle cx="814.5" cy="489.8" r="3.5"/><circle cx="815.9" cy="491.8" r="3.5"/><circle cx="817.4" cy="494.0" r="3.5"/><circle cx="818.8" cy="496.4" r="3.5"/><circle cx="820.2" cy="499.0" r="3.5"/><circle cx="821.6" cy="501.6" r="3.5"/><circle cx="823.1" cy="504.3" r="3.5"/><circle cx="824.5" cy="507.0" r="3.5"/><circle cx="825.9" cy="509.5" r="3.5"/><circle cx="827.3" cy="512.0" r="3.5"/><circle cx="828.7" cy="514.3" r="3.5"/><circle cx="830.2" cy="516.5" r="3.5"/><circle cx="831.6" cy="518.5" r="3.5"/><circle cx="833.0" cy="520.4" r="3.5"/><circle cx="834.4" cy="522.1" r="3.5"/><circle cx="835.9" cy="523.7" r="3.5"/><circle cx="837.3" cy="525.2" r="3.5"/><circle cx="838.7" cy="526.5" r="3.5"/><circle cx="840.1" cy="527.7" r="3.5"/><circle cx="841.6" cy="528.8" r="3.5"/><circle cx="843.0" cy="529.7" r="3.5"/><circle cx="844.4" cy="530.5" r="3.5"/><circle cx="845.8" cy="531.1" r="3.5"/><circle cx="847.2" cy="531.7" r="3.5"/><circle cx="848.7" cy="532.1" r="3.5"/><circle cx="850.1" cy="532.3" r="3.5"/><circle cx="851.5" cy="532.5" r="3.5"/><circle cx="852.9" cy="532.5" r="3.5"/><circle cx="854.4" cy="532.4" r="3.5"/><circle cx="855.8" cy="532.2" r="3.5"/><circle cx="857.2" cy="531.8" r="3.5"/><circle cx="858.6" cy="531.3" r="3.5"/><circle cx="860.0" cy="530.7" r="3.5"/><circle cx="861.5" cy="530.1" r="3.5"/><circle cx="862.9" cy="529.3" r="3.5"/><circle cx="864.3" cy="528.5" r="3.5"/><circle cx="865.7" cy="527.6" r="3.5"/><circle cx="867.2" cy="526.7" r="3.5"/><circle cx="868.6" cy="525.8" r="3.5"/><circle cx="870.0" cy="524.9" r="3.5"/><circle cx="871.4" cy="524.0" r="3.5"/><circle cx="872.9" cy="523.2" r="3.5"/><circle cx="874.3" cy="522.5" r="3.5"/><circle cx="875.7" cy="521.8" r="3.5"/><circle cx="877.1" cy="521.2" r="3.5"/><circle cx="878.5" cy="520.6" r="3.5"/><circle cx="880.0" cy="520.1" r="3.5"/><circle cx="881.4" cy="519.6" r="3.5"/><circle cx="882.8" cy="519.1" r="3.5"/><circle cx="884.2" cy="518.7" r="3.5"/><circle cx="885.7" cy="518.7" r="3.5"/><circle cx="887.1" cy="518.9" r="3.5"/><circle cx="888.5" cy="519.2" r="3.5"/><circle cx="889.9" cy="519.7" r="3.5"/><circle cx="891.4" cy="520.3" r="3.5"/><circle cx="892.8" cy="521.0" r="3.5"/><circle cx="894.2" cy="521.9" r="3.5"/><circle cx="895.6" cy="523.0" r="3.5"/><circle cx="897.0" cy="524.1" r="3.5"/><circle cx="898.5" cy="525.5" r="3.5"/><circle cx="899.9" cy="526.9" r="3.5"/><circle cx="901.3" cy="528.4" r="3.5"/><circle cx="902.7" cy="530.2" r="3.5"/><circle cx="904.2" cy="532.3" r="3.5"/><circle cx="905.6" cy="534.8" r="3.5"/><circle cx="907.0" cy="537.4" r="3.5"/><circle cx="908.4" cy="540.0" r="3.5"/><circle cx="909.9" cy="542.5" r="3.5"/><circle cx="911.3" cy="545.1" r="3.5"/><circle cx="912.7" cy="404.3" r="3.5"/></g><g font-family="Liberation Sans" font-weight="bold" font-size="27.5" fill="#1a1a1a" ><text x="101.6" y="716.5" text-anchor="middle">0.3</text><text x="263.8" y="716.5" text-anchor="middle">0.35</text><text x="426.0" y="716.5" text-anchor="middle">0.4</text><text x="588.3" y="716.5" text-anchor="middle">0.45</text><text x="750.5" y="716.5" text-anchor="middle">0.5</text><text x="912.7" y="716.5" text-anchor="middle">0.55</text></g><g font-family="Liberation Sans" font-weight="bold" fill="#1a1a1a" ><text x="67.8" y="661.4" text-anchor="end" font-size="28"><tspan fill="transparent" stroke="none">1</tspan>0</text><text x="68.8" y="647.5" font-size="22.5"><tspan fill="transparent" stroke="none">1</tspan>7</text><text x="67.8" y="548.7" text-anchor="end" font-size="28"><tspan fill="transparent" stroke="none">1</tspan>0</text><text x="68.8" y="534.8" font-size="22.5"><tspan fill="transparent" stroke="none">1</tspan>8</text><text x="67.8" y="436.1" text-anchor="end" font-size="28"><tspan fill="transparent" stroke="none">1</tspan>0</text><text x="68.8" y="422.2" font-size="22.5"><tspan fill="transparent" stroke="none">1</tspan>9</text><text x="67.8" y="323.4" text-anchor="end" font-size="28"><tspan fill="transparent" stroke="none">1</tspan>0</text><text x="68.8" y="309.5" font-size="22.5">20</text><text x="67.8" y="210.8" text-anchor="end" font-size="28"><tspan fill="transparent" stroke="none">1</tspan>0</text><text x="68.8" y="196.9" font-size="22.5">2<tspan fill="transparent" stroke="none">1</tspan></text><text x="67.8" y="98.1" text-anchor="end" font-size="28"><tspan fill="transparent" stroke="none">1</tspan>0</text><text x="68.8" y="84.2" font-size="22.5">22</text></g><text x="507.4" y="755" text-anchor="middle" font-family="Liberation Sans" font-weight="bold" font-size="30" fill="#1a1a1a">Ec-E (eV)</text><text transform="translate(27 342.4) rotate(-90)" text-anchor="middle" font-family="Liberation Sans" font-weight="bold" font-size="30" fill="#1a1a1a">DOS (cm<tspan dy="-13.5" font-size="27">-</tspan><tspan dy="13.5">3eV</tspan><tspan dy="-13.5" font-size="27">-</tspan><tspan dy="13.5"><tspan fill="transparent" stroke="none">1</tspan>)</tspan></text><rect x="680.4" y="92.4" width="126.4" height="96.8" fill="#fff" stroke="#262626" stroke-width="2"/><circle cx="700.9" cy="109.9" r="3.6" fill="#0000ff"/><text x="721.2" y="118.5" font-family="Liberation Sans" font-weight="bold" font-size="24.3" fill="#000">DOS-L</text><circle cx="700.9" cy="141.3" r="3.6" fill="#ff0000"/><text x="721.2" y="150.2" font-family="Liberation Sans" font-weight="bold" font-size="24.3" fill="#000">DOS-M</text><circle cx="700.9" cy="172.7" r="3.6" fill="#edb120"/><text x="721.2" y="181.9" font-family="Liberation Sans" font-weight="bold" font-size="24.3" fill="#000">DOS-S</text><text transform="matrix(0.29242 0 0 0.32319 141.21 506.95)" font-family="Liberation Sans" font-weight="normal" font-style="normal" font-size="100" fill="#000" stroke="#000" stroke-width="3.078">L:</text><text transform="matrix(0.32632 0 0 0.34308 174.57 505.95)" font-family="Liberation Serif" font-weight="bold" font-style="italic" font-size="100" fill="#000" stroke="#000" stroke-width="3.065">T</text><text transform="matrix(0.26429 0 0 0.26429 197.82 513.09)" font-family="Liberation Serif" font-weight="bold" font-style="normal" font-size="100" fill="#000" stroke="#000" stroke-width="1.135" letter-spacing="3.52">total</text><path d="M268.4 493.0H287.4M268.4 499.8H287.4" stroke="#000" stroke-width="2.3" stroke-linecap="round"/><text transform="matrix(0.34762 0 0 0.35303 302.06 505.80)" font-family="Liberation Serif" font-weight="bold" font-style="normal" font-size="100" fill="#000" stroke="#000" stroke-width="2.301">5</text><text transform="matrix(0.15882 0 0 0.19375 323.61 505.86)" font-family="Liberation Serif" font-weight="bold" font-style="normal" font-size="100" fill="#000" stroke="#000" stroke-width="5.037">.</text><text transform="matrix(0.37006 0 0 0.34265 336.28 505.46)" font-family="Liberation Serif" font-weight="bold" font-style="normal" font-size="100" fill="#000" stroke="#000" stroke-width="2.162" letter-spacing="7.21">4431</text><path d="M430.8 488.2L447.6 505.0M447.6 488.2L430.8 505.0" stroke="#000" stroke-width="2.0"/><text transform="matrix(0.43750 0 0 0.34412 459.05 505.56)" font-family="Liberation Serif" font-weight="bold" font-style="normal" font-size="100" fill="#000" stroke="#000" stroke-width="1.829">10</text><text transform="matrix(0.24501 0 0 0.22687 501.87 491.00)" font-family="Liberation Serif" font-weight="bold" font-style="normal" font-size="100" fill="#000" stroke="#000" stroke-width="0.000" letter-spacing="8.81">20</text><text transform="matrix(0.37317 0 0 0.36042 533.53 505.89)" font-family="Liberation Serif" font-weight="bold" font-style="normal" font-size="100" fill="#000" stroke="#000" stroke-width="1.340">cm</text><path d="M584.3 485.4H597.6" stroke="#000" stroke-width="2.0"/><text transform="matrix(0.32791 0 0 0.22687 599.04 493.10)" font-family="Liberation Serif" font-weight="bold" font-style="normal" font-size="100" fill="#000" stroke="#000" stroke-width="0.000">3</text><text transform="matrix(0.37872 0 0 0.32464 139.72 571.95)" font-family="Liberation Sans" font-weight="normal" font-style="normal" font-size="100" fill="#000" stroke="#000" stroke-width="2.376">M:</text><text transform="matrix(0.32632 0 0 0.34308 190.17 570.95)" font-family="Liberation Serif" font-weight="bold" font-style="italic" font-size="100" fill="#000" stroke="#000" stroke-width="3.065">T</text><text transform="matrix(0.26429 0 0 0.26429 213.42 578.09)" font-family="Liberation Serif" font-weight="bold" font-style="normal" font-size="100" fill="#000" stroke="#000" stroke-width="1.135" letter-spacing="3.52">total</text><path d="M283.7 558.0H302.7M283.7 564.8H302.7" stroke="#000" stroke-width="2.3" stroke-linecap="round"/><text transform="matrix(0.34762 0 0 0.35303 317.26 570.70)" font-family="Liberation Serif" font-weight="bold" font-style="normal" font-size="100" fill="#000" stroke="#000" stroke-width="2.301">5</text><text transform="matrix(0.20588 0 0 0.19375 338.43 570.76)" font-family="Liberation Serif" font-weight="bold" font-style="normal" font-size="100" fill="#000" stroke="#000" stroke-width="3.886">.</text><text transform="matrix(0.37558 0 0 0.34776 350.82 570.35)" font-family="Liberation Serif" font-weight="bold" font-style="normal" font-size="100" fill="#000" stroke="#000" stroke-width="2.130" letter-spacing="6.16">9096</text><path d="M445.8 553.2L462.6 570.0M462.6 553.2L445.8 570.0" stroke="#000" stroke-width="2.0"/><text transform="matrix(0.43750 0 0 0.34412 474.05 570.56)" font-family="Liberation Serif" font-weight="bold" font-style="normal" font-size="100" fill="#000" stroke="#000" stroke-width="1.829">10</text><text transform="matrix(0.24501 0 0 0.22687 516.87 556.00)" font-family="Liberation Serif" font-weight="bold" font-style="normal" font-size="100" fill="#000" stroke="#000" stroke-width="0.000" letter-spacing="8.81">20</text><text transform="matrix(0.37317 0 0 0.36042 548.53 570.89)" font-family="Liberation Serif" font-weight="bold" font-style="normal" font-size="100" fill="#000" stroke="#000" stroke-width="1.340">cm</text><path d="M599.3 550.4H612.6" stroke="#000" stroke-width="2.0"/><text transform="matrix(0.32791 0 0 0.22687 614.04 558.10)" font-family="Liberation Serif" font-weight="bold" font-style="normal" font-size="100" fill="#000" stroke="#000" stroke-width="0.000">3</text><text transform="matrix(0.29375 0 0 0.32394 140.08 636.43)" font-family="Liberation Sans" font-weight="normal" font-style="normal" font-size="100" fill="#000" stroke="#000" stroke-width="3.064">S:</text><text transform="matrix(0.32632 0 0 0.34308 176.77 635.35)" font-family="Liberation Serif" font-weight="bold" font-style="italic" font-size="100" fill="#000" stroke="#000" stroke-width="3.065">T</text><text transform="matrix(0.26429 0 0 0.26429 200.02 642.49)" font-family="Liberation Serif" font-weight="bold" font-style="normal" font-size="100" fill="#000" stroke="#000" stroke-width="1.135" letter-spacing="3.52">total</text><path d="M270.5 622.4H289.5M270.5 629.2H289.5" stroke="#000" stroke-width="2.3" stroke-linecap="round"/><text transform="matrix(0.36809 0 0 0.35846 303.38 635.55)" font-family="Liberation Serif" font-weight="bold" font-style="normal" font-size="100" fill="#000" stroke="#000" stroke-width="2.173">4</text><text transform="matrix(0.21176 0 0 0.19375 324.10 635.26)" font-family="Liberation Serif" font-weight="bold" font-style="normal" font-size="100" fill="#000" stroke="#000" stroke-width="3.778">.</text><text transform="matrix(0.37558 0 0 0.34776 338.25 634.85)" font-family="Liberation Serif" font-weight="bold" font-style="normal" font-size="100" fill="#000" stroke="#000" stroke-width="2.130" letter-spacing="6.58">5628</text><path d="M432.4 617.6L449.2 634.4M449.2 617.6L432.4 634.4" stroke="#000" stroke-width="2.0"/><text transform="matrix(0.43750 0 0 0.34412 460.65 634.96)" font-family="Liberation Serif" font-weight="bold" font-style="normal" font-size="100" fill="#000" stroke="#000" stroke-width="1.829">10</text><text transform="matrix(0.24501 0 0 0.22687 503.47 620.40)" font-family="Liberation Serif" font-weight="bold" font-style="normal" font-size="100" fill="#000" stroke="#000" stroke-width="0.000" letter-spacing="8.81">20</text><text transform="matrix(0.37317 0 0 0.36042 535.13 635.29)" font-family="Liberation Serif" font-weight="bold" font-style="normal" font-size="100" fill="#000" stroke="#000" stroke-width="1.340">cm</text><path d="M585.9 614.8H599.2" stroke="#000" stroke-width="2.0"/><text transform="matrix(0.32791 0 0 0.22687 600.64 622.50)" font-family="Liberation Serif" font-weight="bold" font-style="normal" font-size="100" fill="#000" stroke="#000" stroke-width="0.000">3</text><path transform=" translate(36.64 661.40) scale(0.01367 -0.01367)" d="M538 0L819 0L819 1409L553 1409L200 1180L200 959L538 1170Z" fill="#1a1a1a"/><path transform=" translate(68.80 647.50) scale(0.01099 -0.01099)" d="M538 0L819 0L819 1409L553 1409L200 1180L200 959L538 1170Z" fill="#1a1a1a"/><path transform=" translate(36.64 548.70) scale(0.01367 -0.01367)" d="M538 0L819 0L819 1409L553 1409L200 1180L200 959L538 1170Z" fill="#1a1a1a"/><path transform=" translate(68.80 534.80) scale(0.01099 -0.01099)" d="M538 0L819 0L819 1409L553 1409L200 1180L200 959L538 1170Z" fill="#1a1a1a"/><path transform=" translate(36.64 436.10) scale(0.01367 -0.01367)" d="M538 0L819 0L819 1409L553 1409L200 1180L200 959L538 1170Z" fill="#1a1a1a"/><path transform=" translate(68.80 422.20) scale(0.01099 -0.01099)" d="M538 0L819 0L819 1409L553 1409L200 1180L200 959L538 1170Z" fill="#1a1a1a"/><path transform=" translate(36.64 323.40) scale(0.01367 -0.01367)" d="M538 0L819 0L819 1409L553 1409L200 1180L200 959L538 1170Z" fill="#1a1a1a"/><path transform=" translate(36.64 210.80) scale(0.01367 -0.01367)" d="M538 0L819 0L819 1409L553 1409L200 1180L200 959L538 1170Z" fill="#1a1a1a"/><path transform=" translate(81.32 196.90) scale(0.01099 -0.01099)" d="M538 0L819 0L819 1409L553 1409L200 1180L200 959L538 1170Z" fill="#1a1a1a"/><path transform=" translate(36.64 98.10) scale(0.01367 -0.01367)" d="M538 0L819 0L819 1409L553 1409L200 1180L200 959L538 1170Z" fill="#1a1a1a"/><path transform="translate(27 342.4) rotate(-90) translate(85.70 0.00) scale(0.01465 -0.01465)" d="M538 0L819 0L819 1409L553 1409L200 1180L200 959L538 1170Z" fill="#1a1a1a"/></svg></body></html>
